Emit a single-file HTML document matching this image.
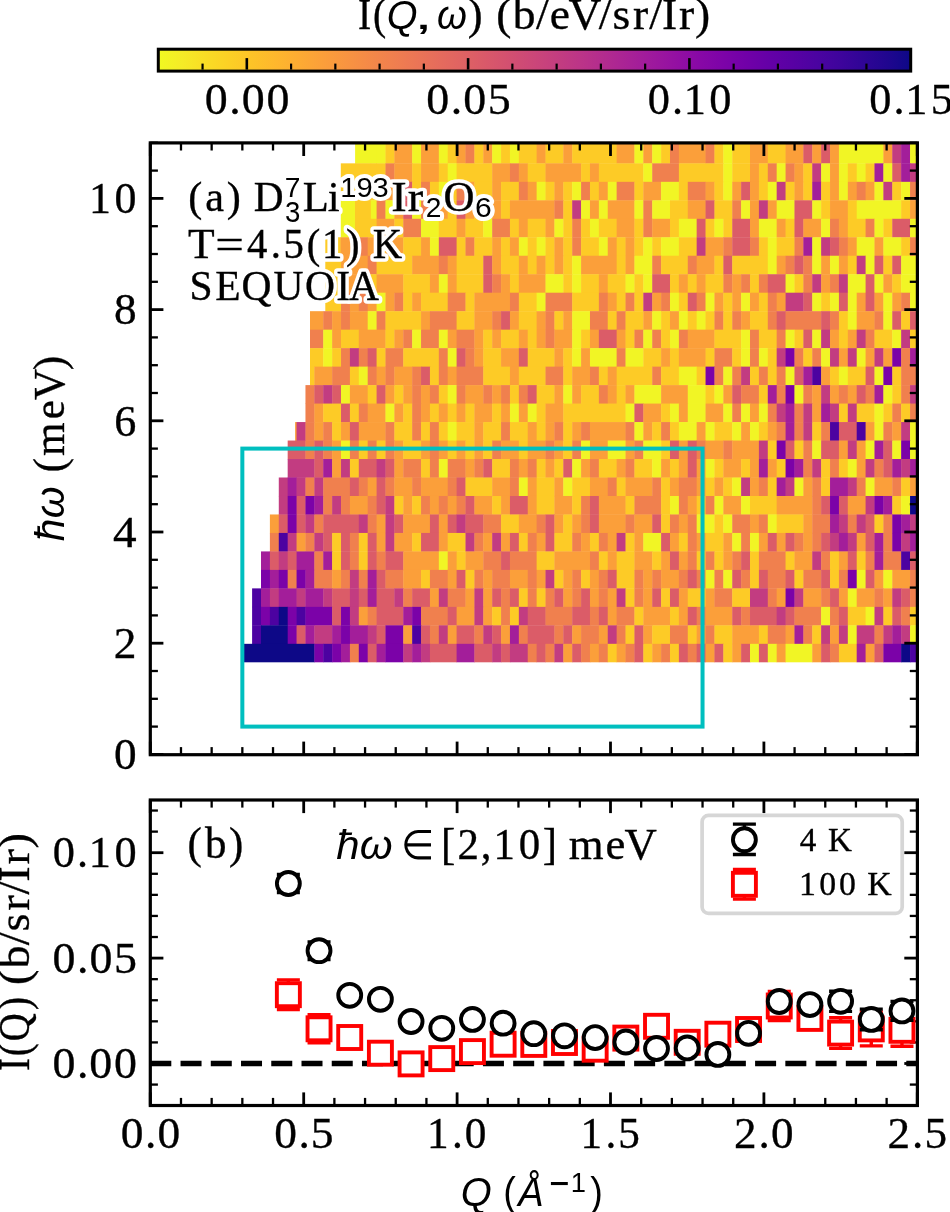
<!DOCTYPE html><html><head><meta charset="utf-8"><style>html,body{margin:0;padding:0;background:#fff;}svg{display:block;will-change:transform;}</style></head><body><svg width="950" height="1212" viewBox="0 0 950 1212"><rect width="950" height="1212" fill="#ffffff"/><defs><linearGradient id="cb" x1="0" x2="1" y1="0" y2="0"><stop offset="0.0000" stop-color="#f0f921"/><stop offset="0.0312" stop-color="#f5eb27"/><stop offset="0.0625" stop-color="#f9dd25"/><stop offset="0.0938" stop-color="#fcd025"/><stop offset="0.1250" stop-color="#fdc328"/><stop offset="0.1562" stop-color="#feb72d"/><stop offset="0.1875" stop-color="#fdab33"/><stop offset="0.2188" stop-color="#fb9f3a"/><stop offset="0.2500" stop-color="#f89441"/><stop offset="0.2812" stop-color="#f48948"/><stop offset="0.3125" stop-color="#f07f4f"/><stop offset="0.3438" stop-color="#eb7556"/><stop offset="0.3750" stop-color="#e56b5d"/><stop offset="0.4062" stop-color="#df6263"/><stop offset="0.4375" stop-color="#d9586a"/><stop offset="0.4688" stop-color="#d24f71"/><stop offset="0.5000" stop-color="#cb4679"/><stop offset="0.5312" stop-color="#c33d80"/><stop offset="0.5625" stop-color="#bb3488"/><stop offset="0.5938" stop-color="#b22b8f"/><stop offset="0.6250" stop-color="#a82296"/><stop offset="0.6562" stop-color="#9e199d"/><stop offset="0.6875" stop-color="#9410a2"/><stop offset="0.7188" stop-color="#8808a6"/><stop offset="0.7500" stop-color="#7d03a8"/><stop offset="0.7812" stop-color="#7100a8"/><stop offset="0.8125" stop-color="#6400a7"/><stop offset="0.8438" stop-color="#5801a4"/><stop offset="0.8750" stop-color="#4b03a1"/><stop offset="0.9062" stop-color="#3e049c"/><stop offset="0.9375" stop-color="#2f0596"/><stop offset="0.9688" stop-color="#20068f"/><stop offset="1.0000" stop-color="#0d0887"/></linearGradient></defs><rect x="158.30" y="49.20" width="752.40" height="21.90" fill="url(#cb)" stroke="#000" stroke-width="3"/><line x1="202.56" y1="69.60" x2="202.56" y2="63.60" stroke="#000" stroke-width="2.2"/><line x1="246.82" y1="69.60" x2="246.82" y2="58.10" stroke="#000" stroke-width="2.6"/><line x1="291.08" y1="69.60" x2="291.08" y2="63.60" stroke="#000" stroke-width="2.2"/><line x1="335.34" y1="69.60" x2="335.34" y2="63.60" stroke="#000" stroke-width="2.2"/><line x1="379.59" y1="69.60" x2="379.59" y2="63.60" stroke="#000" stroke-width="2.2"/><line x1="423.85" y1="69.60" x2="423.85" y2="63.60" stroke="#000" stroke-width="2.2"/><line x1="468.11" y1="69.60" x2="468.11" y2="58.10" stroke="#000" stroke-width="2.6"/><line x1="512.37" y1="69.60" x2="512.37" y2="63.60" stroke="#000" stroke-width="2.2"/><line x1="556.63" y1="69.60" x2="556.63" y2="63.60" stroke="#000" stroke-width="2.2"/><line x1="600.89" y1="69.60" x2="600.89" y2="63.60" stroke="#000" stroke-width="2.2"/><line x1="645.15" y1="69.60" x2="645.15" y2="63.60" stroke="#000" stroke-width="2.2"/><line x1="689.41" y1="69.60" x2="689.41" y2="58.10" stroke="#000" stroke-width="2.6"/><line x1="733.66" y1="69.60" x2="733.66" y2="63.60" stroke="#000" stroke-width="2.2"/><line x1="777.92" y1="69.60" x2="777.92" y2="63.60" stroke="#000" stroke-width="2.2"/><line x1="822.18" y1="69.60" x2="822.18" y2="63.60" stroke="#000" stroke-width="2.2"/><line x1="866.44" y1="69.60" x2="866.44" y2="63.60" stroke="#000" stroke-width="2.2"/><text transform="translate(0.00 113.60) scale(1.0557 1.0000)" x="194.05 217.21 229.03 252.35" font-size="43.5" style="font-family:'Liberation Serif',serif" stroke="#000" stroke-width="0.33">0.00</text><text transform="translate(0.00 113.60) scale(1.0555 1.0000)" x="403.78 426.99 438.87 462.13" font-size="43.5" style="font-family:'Liberation Serif',serif" stroke="#000" stroke-width="0.33">0.05</text><text transform="translate(0.00 113.60) scale(1.0193 1.0000)" x="635.57 659.35 670.92 695.95" font-size="43.5" style="font-family:'Liberation Serif',serif" stroke="#000" stroke-width="0.34">0.10</text><text transform="translate(0.00 113.60) scale(1.0183 1.0000)" x="853.53 877.39 889.04 914.03" font-size="43.5" style="font-family:'Liberation Serif',serif" stroke="#000" stroke-width="0.34">0.15</text><text transform="translate(0.00 28.85) scale(0.9098 1.0000)" x="393.45 410.09" font-size="43.5" style="font-family:'Liberation Serif',serif" stroke="#000" stroke-width="0.38">I(</text><text transform="translate(386.78 28.85) scale(0.9600 1.0000)" font-size="41.2" style="font-family:'Liberation Sans',sans-serif;font-style:italic" stroke="#000" stroke-width="0.00">Q</text><text transform="translate(413.91 28.85) scale(1.6500 1.0000)" font-size="41.2" style="font-family:'Liberation Sans',sans-serif" stroke="#000" stroke-width="0.00">,</text><text transform="translate(436.93 28.85) scale(0.9322 1.0000)" font-size="41.2" style="font-family:'Liberation Sans',sans-serif;font-style:italic" stroke="#000" stroke-width="0.00">ω</text><text transform="translate(0.00 28.85) scale(1.0273 1.0000)" x="455.44" font-size="43.5" style="font-family:'Liberation Serif',serif" stroke="#000" stroke-width="0.34">)</text><text transform="translate(0.00 28.85) scale(1.0465 1.0000)" x="474.32 489.97 512.19 525.36 543.20 572.16 585.28 604.93 620.39 632.55 648.88 664.16" font-size="43.5" style="font-family:'Liberation Serif',serif" stroke="#000" stroke-width="0.33">(b/eV/sr/Ir)</text><g><rect x="355.10" y="143.50" width="21.90" height="20.24" fill="#f1f525"/><rect x="376.59" y="143.50" width="9.29" height="20.24" fill="#f1f525"/><rect x="385.48" y="143.50" width="9.29" height="20.24" fill="#fdcb26"/><rect x="394.37" y="143.50" width="18.18" height="20.24" fill="#fb9f3a"/><rect x="412.15" y="143.50" width="9.29" height="20.24" fill="#f1f525"/><rect x="421.04" y="143.50" width="18.18" height="20.24" fill="#fb9f3a"/><rect x="438.82" y="143.50" width="9.29" height="20.24" fill="#f1f525"/><rect x="447.71" y="143.50" width="9.29" height="20.24" fill="#fdcb26"/><rect x="456.60" y="143.50" width="9.29" height="20.24" fill="#fb9f3a"/><rect x="465.50" y="143.50" width="9.29" height="20.24" fill="#f0804e"/><rect x="474.39" y="143.50" width="9.29" height="20.24" fill="#fdcb26"/><rect x="483.28" y="143.50" width="9.29" height="20.24" fill="#fb9f3a"/><rect x="492.17" y="143.50" width="9.29" height="20.24" fill="#f1f525"/><rect x="501.06" y="143.50" width="9.29" height="20.24" fill="#fdcb26"/><rect x="509.95" y="143.50" width="9.29" height="20.24" fill="#f1f525"/><rect x="518.84" y="143.50" width="18.18" height="20.24" fill="#fdcb26"/><rect x="536.62" y="143.50" width="9.29" height="20.24" fill="#fb9f3a"/><rect x="545.51" y="143.50" width="18.18" height="20.24" fill="#fdcb26"/><rect x="563.30" y="143.50" width="9.29" height="20.24" fill="#fb9f3a"/><rect x="572.19" y="143.50" width="44.86" height="20.24" fill="#fdcb26"/><rect x="616.64" y="143.50" width="18.18" height="20.24" fill="#fb9f3a"/><rect x="634.42" y="143.50" width="9.29" height="20.24" fill="#f1f525"/><rect x="643.32" y="143.50" width="9.29" height="20.24" fill="#fb9f3a"/><rect x="652.21" y="143.50" width="9.29" height="20.24" fill="#f1f525"/><rect x="661.10" y="143.50" width="9.29" height="20.24" fill="#fdcb26"/><rect x="669.99" y="143.50" width="9.29" height="20.24" fill="#f0804e"/><rect x="678.88" y="143.50" width="27.07" height="20.24" fill="#fb9f3a"/><rect x="705.55" y="143.50" width="9.29" height="20.24" fill="#f0804e"/><rect x="714.44" y="143.50" width="9.29" height="20.24" fill="#fdcb26"/><rect x="723.33" y="143.50" width="9.29" height="20.24" fill="#f1f525"/><rect x="732.23" y="143.50" width="18.18" height="20.24" fill="#fdcb26"/><rect x="750.01" y="143.50" width="18.18" height="20.24" fill="#fb9f3a"/><rect x="767.79" y="143.50" width="18.18" height="20.24" fill="#fdcb26"/><rect x="785.57" y="143.50" width="18.18" height="20.24" fill="#fb9f3a"/><rect x="803.35" y="143.50" width="9.29" height="20.24" fill="#db5c68"/><rect x="812.24" y="143.50" width="9.29" height="20.24" fill="#fb9f3a"/><rect x="821.13" y="143.50" width="9.29" height="20.24" fill="#db5c68"/><rect x="830.03" y="143.50" width="9.29" height="20.24" fill="#fb9f3a"/><rect x="838.92" y="143.50" width="44.86" height="20.24" fill="#f1f525"/><rect x="883.37" y="143.50" width="9.29" height="20.24" fill="#fb9f3a"/><rect x="892.26" y="143.50" width="9.29" height="20.24" fill="#c23c81"/><rect x="901.15" y="143.50" width="9.29" height="20.24" fill="#a31e9a"/><rect x="910.05" y="143.50" width="5.95" height="20.24" fill="#f1f525"/><rect x="340.80" y="163.34" width="14.60" height="18.88" fill="#fdcb26"/><rect x="355.00" y="163.34" width="16.20" height="18.88" fill="#fdcb26"/><rect x="370.80" y="163.34" width="6.20" height="18.88" fill="#fdcb26"/><rect x="376.59" y="163.34" width="9.29" height="18.88" fill="#fdcb26"/><rect x="385.48" y="163.34" width="9.29" height="18.88" fill="#f0804e"/><rect x="394.37" y="163.34" width="18.18" height="18.88" fill="#fb9f3a"/><rect x="412.15" y="163.34" width="9.29" height="18.88" fill="#fdcb26"/><rect x="421.04" y="163.34" width="18.18" height="18.88" fill="#fb9f3a"/><rect x="438.82" y="163.34" width="9.29" height="18.88" fill="#fdcb26"/><rect x="447.71" y="163.34" width="9.29" height="18.88" fill="#f1f525"/><rect x="456.60" y="163.34" width="35.96" height="18.88" fill="#fdcb26"/><rect x="492.17" y="163.34" width="18.18" height="18.88" fill="#fb9f3a"/><rect x="509.95" y="163.34" width="9.29" height="18.88" fill="#f0804e"/><rect x="518.84" y="163.34" width="9.29" height="18.88" fill="#fb9f3a"/><rect x="527.73" y="163.34" width="18.18" height="18.88" fill="#fdcb26"/><rect x="545.51" y="163.34" width="35.96" height="18.88" fill="#fb9f3a"/><rect x="581.08" y="163.34" width="9.29" height="18.88" fill="#fdcb26"/><rect x="589.97" y="163.34" width="9.29" height="18.88" fill="#fb9f3a"/><rect x="598.86" y="163.34" width="44.86" height="18.88" fill="#fdcb26"/><rect x="643.32" y="163.34" width="9.29" height="18.88" fill="#f1f525"/><rect x="652.21" y="163.34" width="27.07" height="18.88" fill="#f0804e"/><rect x="678.88" y="163.34" width="44.85" height="18.88" fill="#fdcb26"/><rect x="723.33" y="163.34" width="9.29" height="18.88" fill="#f1f525"/><rect x="732.23" y="163.34" width="18.18" height="18.88" fill="#fdcb26"/><rect x="750.01" y="163.34" width="9.29" height="18.88" fill="#fb9f3a"/><rect x="758.90" y="163.34" width="9.29" height="18.88" fill="#fdcb26"/><rect x="767.79" y="163.34" width="9.29" height="18.88" fill="#f0804e"/><rect x="776.68" y="163.34" width="9.29" height="18.88" fill="#f1f525"/><rect x="785.57" y="163.34" width="9.29" height="18.88" fill="#f0804e"/><rect x="794.46" y="163.34" width="9.29" height="18.88" fill="#fb9f3a"/><rect x="803.35" y="163.34" width="9.29" height="18.88" fill="#fdcb26"/><rect x="812.24" y="163.34" width="9.29" height="18.88" fill="#c23c81"/><rect x="821.13" y="163.34" width="9.29" height="18.88" fill="#f1f525"/><rect x="830.03" y="163.34" width="9.29" height="18.88" fill="#fb9f3a"/><rect x="838.92" y="163.34" width="9.29" height="18.88" fill="#f1f525"/><rect x="847.81" y="163.34" width="9.29" height="18.88" fill="#fdcb26"/><rect x="856.70" y="163.34" width="9.29" height="18.88" fill="#f1f525"/><rect x="865.59" y="163.34" width="9.29" height="18.88" fill="#fdcb26"/><rect x="874.48" y="163.34" width="9.29" height="18.88" fill="#a31e9a"/><rect x="883.37" y="163.34" width="9.29" height="18.88" fill="#f1f525"/><rect x="892.26" y="163.34" width="9.29" height="18.88" fill="#db5c68"/><rect x="901.15" y="163.34" width="9.29" height="18.88" fill="#a31e9a"/><rect x="910.05" y="163.34" width="5.95" height="18.88" fill="#c23c81"/><rect x="340.80" y="181.82" width="14.60" height="18.88" fill="#fdcb26"/><rect x="355.00" y="181.82" width="16.20" height="18.88" fill="#fdcb26"/><rect x="370.80" y="181.82" width="6.20" height="18.88" fill="#fdcb26"/><rect x="376.59" y="181.82" width="27.07" height="18.88" fill="#fb9f3a"/><rect x="403.26" y="181.82" width="9.29" height="18.88" fill="#db5c68"/><rect x="412.15" y="181.82" width="9.29" height="18.88" fill="#fdcb26"/><rect x="421.04" y="181.82" width="9.29" height="18.88" fill="#f0804e"/><rect x="429.93" y="181.82" width="9.29" height="18.88" fill="#fdcb26"/><rect x="438.82" y="181.82" width="9.29" height="18.88" fill="#f1f525"/><rect x="447.71" y="181.82" width="9.29" height="18.88" fill="#fdcb26"/><rect x="456.60" y="181.82" width="9.29" height="18.88" fill="#f0804e"/><rect x="465.50" y="181.82" width="9.29" height="18.88" fill="#fb9f3a"/><rect x="474.39" y="181.82" width="18.18" height="18.88" fill="#fdcb26"/><rect x="492.17" y="181.82" width="9.29" height="18.88" fill="#fb9f3a"/><rect x="501.06" y="181.82" width="18.18" height="18.88" fill="#fdcb26"/><rect x="518.84" y="181.82" width="9.29" height="18.88" fill="#f0804e"/><rect x="527.73" y="181.82" width="9.29" height="18.88" fill="#fb9f3a"/><rect x="536.62" y="181.82" width="9.29" height="18.88" fill="#f1f525"/><rect x="545.51" y="181.82" width="9.29" height="18.88" fill="#fdcb26"/><rect x="554.40" y="181.82" width="9.29" height="18.88" fill="#fb9f3a"/><rect x="563.30" y="181.82" width="9.29" height="18.88" fill="#fdcb26"/><rect x="572.19" y="181.82" width="9.29" height="18.88" fill="#f1f525"/><rect x="581.08" y="181.82" width="9.29" height="18.88" fill="#f0804e"/><rect x="589.97" y="181.82" width="9.29" height="18.88" fill="#fdcb26"/><rect x="598.86" y="181.82" width="9.29" height="18.88" fill="#fb9f3a"/><rect x="607.75" y="181.82" width="9.29" height="18.88" fill="#f1f525"/><rect x="616.64" y="181.82" width="18.18" height="18.88" fill="#f0804e"/><rect x="634.42" y="181.82" width="9.29" height="18.88" fill="#fdcb26"/><rect x="643.32" y="181.82" width="18.18" height="18.88" fill="#fb9f3a"/><rect x="661.10" y="181.82" width="18.18" height="18.88" fill="#f1f525"/><rect x="678.88" y="181.82" width="9.29" height="18.88" fill="#fdcb26"/><rect x="687.77" y="181.82" width="18.18" height="18.88" fill="#f0804e"/><rect x="705.55" y="181.82" width="9.29" height="18.88" fill="#fb9f3a"/><rect x="714.44" y="181.82" width="9.29" height="18.88" fill="#fdcb26"/><rect x="723.33" y="181.82" width="9.29" height="18.88" fill="#f1f525"/><rect x="732.23" y="181.82" width="9.29" height="18.88" fill="#fb9f3a"/><rect x="741.12" y="181.82" width="9.29" height="18.88" fill="#db5c68"/><rect x="750.01" y="181.82" width="9.29" height="18.88" fill="#fb9f3a"/><rect x="758.90" y="181.82" width="9.29" height="18.88" fill="#fdcb26"/><rect x="767.79" y="181.82" width="9.29" height="18.88" fill="#f1f525"/><rect x="776.68" y="181.82" width="9.29" height="18.88" fill="#c23c81"/><rect x="785.57" y="181.82" width="9.29" height="18.88" fill="#fdcb26"/><rect x="794.46" y="181.82" width="9.29" height="18.88" fill="#fb9f3a"/><rect x="803.35" y="181.82" width="9.29" height="18.88" fill="#fdcb26"/><rect x="812.24" y="181.82" width="9.29" height="18.88" fill="#a31e9a"/><rect x="821.13" y="181.82" width="9.29" height="18.88" fill="#fdcb26"/><rect x="830.03" y="181.82" width="9.29" height="18.88" fill="#fb9f3a"/><rect x="838.92" y="181.82" width="9.29" height="18.88" fill="#f1f525"/><rect x="847.81" y="181.82" width="9.29" height="18.88" fill="#fb9f3a"/><rect x="856.70" y="181.82" width="9.29" height="18.88" fill="#f0804e"/><rect x="865.59" y="181.82" width="9.29" height="18.88" fill="#fb9f3a"/><rect x="874.48" y="181.82" width="9.29" height="18.88" fill="#f1f525"/><rect x="883.37" y="181.82" width="9.29" height="18.88" fill="#c23c81"/><rect x="892.26" y="181.82" width="9.29" height="18.88" fill="#fdcb26"/><rect x="901.15" y="181.82" width="9.29" height="18.88" fill="#f1f525"/><rect x="910.05" y="181.82" width="5.95" height="18.88" fill="#f0804e"/><rect x="340.80" y="200.30" width="14.60" height="18.88" fill="#f1f525"/><rect x="355.00" y="200.30" width="16.20" height="18.88" fill="#fdcb26"/><rect x="370.80" y="200.30" width="6.20" height="18.88" fill="#f1f525"/><rect x="376.59" y="200.30" width="9.29" height="18.88" fill="#f0804e"/><rect x="385.48" y="200.30" width="9.29" height="18.88" fill="#f1f525"/><rect x="394.37" y="200.30" width="9.29" height="18.88" fill="#fb9f3a"/><rect x="403.26" y="200.30" width="9.29" height="18.88" fill="#db5c68"/><rect x="412.15" y="200.30" width="9.29" height="18.88" fill="#f1f525"/><rect x="421.04" y="200.30" width="9.29" height="18.88" fill="#f0804e"/><rect x="429.93" y="200.30" width="18.18" height="18.88" fill="#fb9f3a"/><rect x="447.71" y="200.30" width="9.29" height="18.88" fill="#fdcb26"/><rect x="456.60" y="200.30" width="9.29" height="18.88" fill="#db5c68"/><rect x="465.50" y="200.30" width="9.29" height="18.88" fill="#fb9f3a"/><rect x="474.39" y="200.30" width="18.18" height="18.88" fill="#fdcb26"/><rect x="492.17" y="200.30" width="9.29" height="18.88" fill="#fb9f3a"/><rect x="501.06" y="200.30" width="9.29" height="18.88" fill="#fdcb26"/><rect x="509.95" y="200.30" width="44.85" height="18.88" fill="#fb9f3a"/><rect x="554.40" y="200.30" width="9.29" height="18.88" fill="#f0804e"/><rect x="563.30" y="200.30" width="9.29" height="18.88" fill="#fdcb26"/><rect x="572.19" y="200.30" width="9.29" height="18.88" fill="#c23c81"/><rect x="581.08" y="200.30" width="9.29" height="18.88" fill="#f1f525"/><rect x="589.97" y="200.30" width="9.29" height="18.88" fill="#fb9f3a"/><rect x="598.86" y="200.30" width="9.29" height="18.88" fill="#f1f525"/><rect x="607.75" y="200.30" width="27.07" height="18.88" fill="#fb9f3a"/><rect x="634.42" y="200.30" width="9.29" height="18.88" fill="#f1f525"/><rect x="643.32" y="200.30" width="9.29" height="18.88" fill="#f0804e"/><rect x="652.21" y="200.30" width="18.18" height="18.88" fill="#f1f525"/><rect x="669.99" y="200.30" width="18.18" height="18.88" fill="#fdcb26"/><rect x="687.77" y="200.30" width="18.18" height="18.88" fill="#fb9f3a"/><rect x="705.55" y="200.30" width="9.29" height="18.88" fill="#db5c68"/><rect x="714.44" y="200.30" width="18.18" height="18.88" fill="#fdcb26"/><rect x="732.23" y="200.30" width="9.29" height="18.88" fill="#f0804e"/><rect x="741.12" y="200.30" width="9.29" height="18.88" fill="#f1f525"/><rect x="750.01" y="200.30" width="9.29" height="18.88" fill="#fb9f3a"/><rect x="758.90" y="200.30" width="9.29" height="18.88" fill="#c23c81"/><rect x="767.79" y="200.30" width="9.29" height="18.88" fill="#fb9f3a"/><rect x="776.68" y="200.30" width="18.18" height="18.88" fill="#f1f525"/><rect x="794.46" y="200.30" width="18.18" height="18.88" fill="#db5c68"/><rect x="812.24" y="200.30" width="9.29" height="18.88" fill="#f1f525"/><rect x="821.13" y="200.30" width="9.29" height="18.88" fill="#fdcb26"/><rect x="830.03" y="200.30" width="18.18" height="18.88" fill="#fb9f3a"/><rect x="847.81" y="200.30" width="9.29" height="18.88" fill="#fdcb26"/><rect x="856.70" y="200.30" width="44.85" height="18.88" fill="#f1f525"/><rect x="901.15" y="200.30" width="9.29" height="18.88" fill="#fdcb26"/><rect x="910.05" y="200.30" width="5.95" height="18.88" fill="#fb9f3a"/><rect x="340.80" y="218.78" width="14.60" height="18.88" fill="#f1f525"/><rect x="355.00" y="218.78" width="16.20" height="18.88" fill="#fdcb26"/><rect x="370.80" y="218.78" width="6.20" height="18.88" fill="#fdcb26"/><rect x="376.59" y="218.78" width="18.18" height="18.88" fill="#fb9f3a"/><rect x="394.37" y="218.78" width="9.29" height="18.88" fill="#fdcb26"/><rect x="403.26" y="218.78" width="18.18" height="18.88" fill="#f0804e"/><rect x="421.04" y="218.78" width="18.18" height="18.88" fill="#f1f525"/><rect x="438.82" y="218.78" width="18.18" height="18.88" fill="#fdcb26"/><rect x="456.60" y="218.78" width="9.29" height="18.88" fill="#fb9f3a"/><rect x="465.50" y="218.78" width="18.18" height="18.88" fill="#fdcb26"/><rect x="483.28" y="218.78" width="9.29" height="18.88" fill="#f1f525"/><rect x="492.17" y="218.78" width="18.18" height="18.88" fill="#f0804e"/><rect x="509.95" y="218.78" width="9.29" height="18.88" fill="#fdcb26"/><rect x="518.84" y="218.78" width="9.29" height="18.88" fill="#fb9f3a"/><rect x="527.73" y="218.78" width="18.18" height="18.88" fill="#fdcb26"/><rect x="545.51" y="218.78" width="9.29" height="18.88" fill="#fb9f3a"/><rect x="554.40" y="218.78" width="9.29" height="18.88" fill="#f1f525"/><rect x="563.30" y="218.78" width="9.29" height="18.88" fill="#fdcb26"/><rect x="572.19" y="218.78" width="9.29" height="18.88" fill="#f0804e"/><rect x="581.08" y="218.78" width="9.29" height="18.88" fill="#fdcb26"/><rect x="589.97" y="218.78" width="9.29" height="18.88" fill="#f1f525"/><rect x="598.86" y="218.78" width="18.18" height="18.88" fill="#fdcb26"/><rect x="616.64" y="218.78" width="18.18" height="18.88" fill="#fb9f3a"/><rect x="634.42" y="218.78" width="9.29" height="18.88" fill="#fdcb26"/><rect x="643.32" y="218.78" width="9.29" height="18.88" fill="#f0804e"/><rect x="652.21" y="218.78" width="18.18" height="18.88" fill="#fb9f3a"/><rect x="669.99" y="218.78" width="9.29" height="18.88" fill="#fdcb26"/><rect x="678.88" y="218.78" width="18.18" height="18.88" fill="#f1f525"/><rect x="696.66" y="218.78" width="9.29" height="18.88" fill="#db5c68"/><rect x="705.55" y="218.78" width="9.29" height="18.88" fill="#fdcb26"/><rect x="714.44" y="218.78" width="9.29" height="18.88" fill="#f1f525"/><rect x="723.33" y="218.78" width="9.29" height="18.88" fill="#fdcb26"/><rect x="732.23" y="218.78" width="18.18" height="18.88" fill="#db5c68"/><rect x="750.01" y="218.78" width="9.29" height="18.88" fill="#fb9f3a"/><rect x="758.90" y="218.78" width="18.18" height="18.88" fill="#f1f525"/><rect x="776.68" y="218.78" width="9.29" height="18.88" fill="#fb9f3a"/><rect x="785.57" y="218.78" width="9.29" height="18.88" fill="#fdcb26"/><rect x="794.46" y="218.78" width="9.29" height="18.88" fill="#db5c68"/><rect x="803.35" y="218.78" width="18.18" height="18.88" fill="#fb9f3a"/><rect x="821.13" y="218.78" width="9.29" height="18.88" fill="#f1f525"/><rect x="830.03" y="218.78" width="9.29" height="18.88" fill="#f0804e"/><rect x="838.92" y="218.78" width="9.29" height="18.88" fill="#fb9f3a"/><rect x="847.81" y="218.78" width="18.18" height="18.88" fill="#fdcb26"/><rect x="865.59" y="218.78" width="9.29" height="18.88" fill="#f0804e"/><rect x="874.48" y="218.78" width="9.29" height="18.88" fill="#f1f525"/><rect x="883.37" y="218.78" width="9.29" height="18.88" fill="#fdcb26"/><rect x="892.26" y="218.78" width="18.18" height="18.88" fill="#db5c68"/><rect x="910.05" y="218.78" width="5.95" height="18.88" fill="#f1f525"/><rect x="325.30" y="237.26" width="15.60" height="18.88" fill="#fdcb26"/><rect x="340.50" y="237.26" width="15.30" height="18.88" fill="#fb9f3a"/><rect x="355.40" y="237.26" width="12.70" height="18.88" fill="#f0804e"/><rect x="367.69" y="237.26" width="9.29" height="18.88" fill="#fb9f3a"/><rect x="376.59" y="237.26" width="9.29" height="18.88" fill="#fdcb26"/><rect x="385.48" y="237.26" width="18.18" height="18.88" fill="#fb9f3a"/><rect x="403.26" y="237.26" width="18.18" height="18.88" fill="#fdcb26"/><rect x="421.04" y="237.26" width="9.29" height="18.88" fill="#fb9f3a"/><rect x="429.93" y="237.26" width="9.29" height="18.88" fill="#f1f525"/><rect x="438.82" y="237.26" width="18.18" height="18.88" fill="#db5c68"/><rect x="456.60" y="237.26" width="9.29" height="18.88" fill="#fdcb26"/><rect x="465.50" y="237.26" width="9.29" height="18.88" fill="#f0804e"/><rect x="474.39" y="237.26" width="18.18" height="18.88" fill="#fdcb26"/><rect x="492.17" y="237.26" width="9.29" height="18.88" fill="#fb9f3a"/><rect x="501.06" y="237.26" width="9.29" height="18.88" fill="#fdcb26"/><rect x="509.95" y="237.26" width="9.29" height="18.88" fill="#fb9f3a"/><rect x="518.84" y="237.26" width="9.29" height="18.88" fill="#f1f525"/><rect x="527.73" y="237.26" width="9.29" height="18.88" fill="#fdcb26"/><rect x="536.62" y="237.26" width="9.29" height="18.88" fill="#f1f525"/><rect x="545.51" y="237.26" width="9.29" height="18.88" fill="#fdcb26"/><rect x="554.40" y="237.26" width="9.29" height="18.88" fill="#fb9f3a"/><rect x="563.30" y="237.26" width="9.29" height="18.88" fill="#fdcb26"/><rect x="572.19" y="237.26" width="9.29" height="18.88" fill="#f0804e"/><rect x="581.08" y="237.26" width="18.18" height="18.88" fill="#fdcb26"/><rect x="598.86" y="237.26" width="9.29" height="18.88" fill="#f1f525"/><rect x="607.75" y="237.26" width="9.29" height="18.88" fill="#fb9f3a"/><rect x="616.64" y="237.26" width="9.29" height="18.88" fill="#fdcb26"/><rect x="625.53" y="237.26" width="9.29" height="18.88" fill="#fb9f3a"/><rect x="634.42" y="237.26" width="9.29" height="18.88" fill="#fdcb26"/><rect x="643.32" y="237.26" width="9.29" height="18.88" fill="#f1f525"/><rect x="652.21" y="237.26" width="9.29" height="18.88" fill="#fdcb26"/><rect x="661.10" y="237.26" width="18.18" height="18.88" fill="#f1f525"/><rect x="678.88" y="237.26" width="18.18" height="18.88" fill="#fdcb26"/><rect x="696.66" y="237.26" width="9.29" height="18.88" fill="#c23c81"/><rect x="705.55" y="237.26" width="18.18" height="18.88" fill="#fb9f3a"/><rect x="723.33" y="237.26" width="9.29" height="18.88" fill="#f0804e"/><rect x="732.23" y="237.26" width="18.18" height="18.88" fill="#db5c68"/><rect x="750.01" y="237.26" width="9.29" height="18.88" fill="#f0804e"/><rect x="758.90" y="237.26" width="9.29" height="18.88" fill="#fdcb26"/><rect x="767.79" y="237.26" width="9.29" height="18.88" fill="#f1f525"/><rect x="776.68" y="237.26" width="18.18" height="18.88" fill="#fdcb26"/><rect x="794.46" y="237.26" width="9.29" height="18.88" fill="#f0804e"/><rect x="803.35" y="237.26" width="9.29" height="18.88" fill="#a31e9a"/><rect x="812.24" y="237.26" width="9.29" height="18.88" fill="#f1f525"/><rect x="821.13" y="237.26" width="9.29" height="18.88" fill="#c23c81"/><rect x="830.03" y="237.26" width="9.29" height="18.88" fill="#db5c68"/><rect x="838.92" y="237.26" width="9.29" height="18.88" fill="#f0804e"/><rect x="847.81" y="237.26" width="9.29" height="18.88" fill="#fb9f3a"/><rect x="856.70" y="237.26" width="18.18" height="18.88" fill="#f1f525"/><rect x="874.48" y="237.26" width="9.29" height="18.88" fill="#fb9f3a"/><rect x="883.37" y="237.26" width="18.18" height="18.88" fill="#f1f525"/><rect x="901.15" y="237.26" width="9.29" height="18.88" fill="#fdcb26"/><rect x="910.05" y="237.26" width="5.95" height="18.88" fill="#f0804e"/><rect x="325.30" y="255.74" width="16.12" height="18.88" fill="#fdcb26"/><rect x="341.02" y="255.74" width="27.07" height="18.88" fill="#fb9f3a"/><rect x="367.69" y="255.74" width="9.29" height="18.88" fill="#f0804e"/><rect x="376.59" y="255.74" width="35.96" height="18.88" fill="#fdcb26"/><rect x="412.15" y="255.74" width="27.07" height="18.88" fill="#fb9f3a"/><rect x="438.82" y="255.74" width="9.29" height="18.88" fill="#f0804e"/><rect x="447.71" y="255.74" width="9.29" height="18.88" fill="#fb9f3a"/><rect x="456.60" y="255.74" width="27.07" height="18.88" fill="#fdcb26"/><rect x="483.28" y="255.74" width="9.29" height="18.88" fill="#db5c68"/><rect x="492.17" y="255.74" width="9.29" height="18.88" fill="#fb9f3a"/><rect x="501.06" y="255.74" width="18.18" height="18.88" fill="#fdcb26"/><rect x="518.84" y="255.74" width="9.29" height="18.88" fill="#fb9f3a"/><rect x="527.73" y="255.74" width="9.29" height="18.88" fill="#fdcb26"/><rect x="536.62" y="255.74" width="9.29" height="18.88" fill="#fb9f3a"/><rect x="545.51" y="255.74" width="9.29" height="18.88" fill="#fdcb26"/><rect x="554.40" y="255.74" width="9.29" height="18.88" fill="#fb9f3a"/><rect x="563.30" y="255.74" width="9.29" height="18.88" fill="#fdcb26"/><rect x="572.19" y="255.74" width="9.29" height="18.88" fill="#f1f525"/><rect x="581.08" y="255.74" width="35.96" height="18.88" fill="#fb9f3a"/><rect x="616.64" y="255.74" width="9.29" height="18.88" fill="#fdcb26"/><rect x="625.53" y="255.74" width="9.29" height="18.88" fill="#fb9f3a"/><rect x="634.42" y="255.74" width="18.18" height="18.88" fill="#f1f525"/><rect x="652.21" y="255.74" width="9.29" height="18.88" fill="#f0804e"/><rect x="661.10" y="255.74" width="27.07" height="18.88" fill="#fdcb26"/><rect x="687.77" y="255.74" width="9.29" height="18.88" fill="#f0804e"/><rect x="696.66" y="255.74" width="18.18" height="18.88" fill="#fb9f3a"/><rect x="714.44" y="255.74" width="9.29" height="18.88" fill="#fdcb26"/><rect x="723.33" y="255.74" width="9.29" height="18.88" fill="#db5c68"/><rect x="732.23" y="255.74" width="35.96" height="18.88" fill="#fdcb26"/><rect x="767.79" y="255.74" width="9.29" height="18.88" fill="#f1f525"/><rect x="776.68" y="255.74" width="9.29" height="18.88" fill="#fb9f3a"/><rect x="785.57" y="255.74" width="9.29" height="18.88" fill="#f0804e"/><rect x="794.46" y="255.74" width="9.29" height="18.88" fill="#db5c68"/><rect x="803.35" y="255.74" width="9.29" height="18.88" fill="#f0804e"/><rect x="812.24" y="255.74" width="9.29" height="18.88" fill="#f1f525"/><rect x="821.13" y="255.74" width="9.29" height="18.88" fill="#fb9f3a"/><rect x="830.03" y="255.74" width="9.29" height="18.88" fill="#f1f525"/><rect x="838.92" y="255.74" width="9.29" height="18.88" fill="#fb9f3a"/><rect x="847.81" y="255.74" width="9.29" height="18.88" fill="#fdcb26"/><rect x="856.70" y="255.74" width="9.29" height="18.88" fill="#c23c81"/><rect x="865.59" y="255.74" width="9.29" height="18.88" fill="#f1f525"/><rect x="874.48" y="255.74" width="9.29" height="18.88" fill="#db5c68"/><rect x="883.37" y="255.74" width="9.29" height="18.88" fill="#fdcb26"/><rect x="892.26" y="255.74" width="9.29" height="18.88" fill="#db5c68"/><rect x="901.15" y="255.74" width="14.85" height="18.88" fill="#f1f525"/><rect x="325.30" y="274.22" width="16.12" height="18.88" fill="#fdcb26"/><rect x="341.02" y="274.22" width="18.18" height="18.88" fill="#fb9f3a"/><rect x="358.80" y="274.22" width="18.18" height="18.88" fill="#fdcb26"/><rect x="376.59" y="274.22" width="27.07" height="18.88" fill="#fb9f3a"/><rect x="403.26" y="274.22" width="27.07" height="18.88" fill="#fdcb26"/><rect x="429.93" y="274.22" width="9.29" height="18.88" fill="#fb9f3a"/><rect x="438.82" y="274.22" width="9.29" height="18.88" fill="#f1f525"/><rect x="447.71" y="274.22" width="9.29" height="18.88" fill="#fb9f3a"/><rect x="456.60" y="274.22" width="27.07" height="18.88" fill="#fdcb26"/><rect x="483.28" y="274.22" width="9.29" height="18.88" fill="#db5c68"/><rect x="492.17" y="274.22" width="9.29" height="18.88" fill="#f0804e"/><rect x="501.06" y="274.22" width="9.29" height="18.88" fill="#fb9f3a"/><rect x="509.95" y="274.22" width="9.29" height="18.88" fill="#fdcb26"/><rect x="518.84" y="274.22" width="27.07" height="18.88" fill="#fb9f3a"/><rect x="545.51" y="274.22" width="18.18" height="18.88" fill="#f1f525"/><rect x="563.30" y="274.22" width="9.29" height="18.88" fill="#fdcb26"/><rect x="572.19" y="274.22" width="9.29" height="18.88" fill="#f1f525"/><rect x="581.08" y="274.22" width="18.18" height="18.88" fill="#fdcb26"/><rect x="598.86" y="274.22" width="9.29" height="18.88" fill="#fb9f3a"/><rect x="607.75" y="274.22" width="18.18" height="18.88" fill="#fdcb26"/><rect x="625.53" y="274.22" width="9.29" height="18.88" fill="#f1f525"/><rect x="634.42" y="274.22" width="9.29" height="18.88" fill="#fdcb26"/><rect x="643.32" y="274.22" width="9.29" height="18.88" fill="#f1f525"/><rect x="652.21" y="274.22" width="18.18" height="18.88" fill="#db5c68"/><rect x="669.99" y="274.22" width="9.29" height="18.88" fill="#fdcb26"/><rect x="678.88" y="274.22" width="9.29" height="18.88" fill="#fb9f3a"/><rect x="687.77" y="274.22" width="9.29" height="18.88" fill="#fdcb26"/><rect x="696.66" y="274.22" width="9.29" height="18.88" fill="#fb9f3a"/><rect x="705.55" y="274.22" width="18.18" height="18.88" fill="#fdcb26"/><rect x="723.33" y="274.22" width="9.29" height="18.88" fill="#f0804e"/><rect x="732.23" y="274.22" width="9.29" height="18.88" fill="#fb9f3a"/><rect x="741.12" y="274.22" width="9.29" height="18.88" fill="#f0804e"/><rect x="750.01" y="274.22" width="9.29" height="18.88" fill="#fdcb26"/><rect x="758.90" y="274.22" width="9.29" height="18.88" fill="#f0804e"/><rect x="767.79" y="274.22" width="18.18" height="18.88" fill="#db5c68"/><rect x="785.57" y="274.22" width="9.29" height="18.88" fill="#f1f525"/><rect x="794.46" y="274.22" width="9.29" height="18.88" fill="#fdcb26"/><rect x="803.35" y="274.22" width="9.29" height="18.88" fill="#f0804e"/><rect x="812.24" y="274.22" width="9.29" height="18.88" fill="#c23c81"/><rect x="821.13" y="274.22" width="9.29" height="18.88" fill="#fb9f3a"/><rect x="830.03" y="274.22" width="9.29" height="18.88" fill="#f0804e"/><rect x="838.92" y="274.22" width="9.29" height="18.88" fill="#c23c81"/><rect x="847.81" y="274.22" width="18.18" height="18.88" fill="#f1f525"/><rect x="865.59" y="274.22" width="9.29" height="18.88" fill="#db5c68"/><rect x="874.48" y="274.22" width="9.29" height="18.88" fill="#f1f525"/><rect x="883.37" y="274.22" width="9.29" height="18.88" fill="#fb9f3a"/><rect x="892.26" y="274.22" width="9.29" height="18.88" fill="#fdcb26"/><rect x="901.15" y="274.22" width="14.85" height="18.88" fill="#f1f525"/><rect x="325.30" y="292.70" width="16.12" height="18.88" fill="#fdcb26"/><rect x="341.02" y="292.70" width="9.29" height="18.88" fill="#f0804e"/><rect x="349.91" y="292.70" width="9.29" height="18.88" fill="#fb9f3a"/><rect x="358.80" y="292.70" width="9.29" height="18.88" fill="#f0804e"/><rect x="367.69" y="292.70" width="9.29" height="18.88" fill="#fb9f3a"/><rect x="376.59" y="292.70" width="9.29" height="18.88" fill="#f1f525"/><rect x="385.48" y="292.70" width="9.29" height="18.88" fill="#fb9f3a"/><rect x="394.37" y="292.70" width="9.29" height="18.88" fill="#f0804e"/><rect x="403.26" y="292.70" width="9.29" height="18.88" fill="#fdcb26"/><rect x="412.15" y="292.70" width="9.29" height="18.88" fill="#fb9f3a"/><rect x="421.04" y="292.70" width="27.07" height="18.88" fill="#fdcb26"/><rect x="447.71" y="292.70" width="18.18" height="18.88" fill="#f0804e"/><rect x="465.50" y="292.70" width="9.29" height="18.88" fill="#fdcb26"/><rect x="474.39" y="292.70" width="35.96" height="18.88" fill="#fb9f3a"/><rect x="509.95" y="292.70" width="9.29" height="18.88" fill="#f0804e"/><rect x="518.84" y="292.70" width="18.18" height="18.88" fill="#fdcb26"/><rect x="536.62" y="292.70" width="9.29" height="18.88" fill="#f1f525"/><rect x="545.51" y="292.70" width="27.07" height="18.88" fill="#f0804e"/><rect x="572.19" y="292.70" width="27.07" height="18.88" fill="#fdcb26"/><rect x="598.86" y="292.70" width="9.29" height="18.88" fill="#f0804e"/><rect x="607.75" y="292.70" width="9.29" height="18.88" fill="#fb9f3a"/><rect x="616.64" y="292.70" width="9.29" height="18.88" fill="#fdcb26"/><rect x="625.53" y="292.70" width="9.29" height="18.88" fill="#f0804e"/><rect x="634.42" y="292.70" width="9.29" height="18.88" fill="#fdcb26"/><rect x="643.32" y="292.70" width="9.29" height="18.88" fill="#c23c81"/><rect x="652.21" y="292.70" width="9.29" height="18.88" fill="#fb9f3a"/><rect x="661.10" y="292.70" width="9.29" height="18.88" fill="#f0804e"/><rect x="669.99" y="292.70" width="9.29" height="18.88" fill="#f1f525"/><rect x="678.88" y="292.70" width="9.29" height="18.88" fill="#fdcb26"/><rect x="687.77" y="292.70" width="9.29" height="18.88" fill="#db5c68"/><rect x="696.66" y="292.70" width="9.29" height="18.88" fill="#f0804e"/><rect x="705.55" y="292.70" width="9.29" height="18.88" fill="#f1f525"/><rect x="714.44" y="292.70" width="9.29" height="18.88" fill="#fb9f3a"/><rect x="723.33" y="292.70" width="9.29" height="18.88" fill="#fdcb26"/><rect x="732.23" y="292.70" width="9.29" height="18.88" fill="#fb9f3a"/><rect x="741.12" y="292.70" width="9.29" height="18.88" fill="#f1f525"/><rect x="750.01" y="292.70" width="9.29" height="18.88" fill="#fb9f3a"/><rect x="758.90" y="292.70" width="9.29" height="18.88" fill="#fdcb26"/><rect x="767.79" y="292.70" width="9.29" height="18.88" fill="#f0804e"/><rect x="776.68" y="292.70" width="9.29" height="18.88" fill="#fb9f3a"/><rect x="785.57" y="292.70" width="18.18" height="18.88" fill="#c23c81"/><rect x="803.35" y="292.70" width="9.29" height="18.88" fill="#db5c68"/><rect x="812.24" y="292.70" width="9.29" height="18.88" fill="#f1f525"/><rect x="821.13" y="292.70" width="9.29" height="18.88" fill="#fdcb26"/><rect x="830.03" y="292.70" width="9.29" height="18.88" fill="#f1f525"/><rect x="838.92" y="292.70" width="9.29" height="18.88" fill="#db5c68"/><rect x="847.81" y="292.70" width="9.29" height="18.88" fill="#f1f525"/><rect x="856.70" y="292.70" width="9.29" height="18.88" fill="#fb9f3a"/><rect x="865.59" y="292.70" width="9.29" height="18.88" fill="#db5c68"/><rect x="874.48" y="292.70" width="9.29" height="18.88" fill="#fb9f3a"/><rect x="883.37" y="292.70" width="9.29" height="18.88" fill="#f1f525"/><rect x="892.26" y="292.70" width="9.29" height="18.88" fill="#fb9f3a"/><rect x="901.15" y="292.70" width="9.29" height="18.88" fill="#f0804e"/><rect x="910.05" y="292.70" width="5.95" height="18.88" fill="#f1f525"/><rect x="310.00" y="311.18" width="13.64" height="18.88" fill="#fb9f3a"/><rect x="323.24" y="311.18" width="9.29" height="18.88" fill="#f0804e"/><rect x="332.13" y="311.18" width="9.29" height="18.88" fill="#fb9f3a"/><rect x="341.02" y="311.18" width="9.29" height="18.88" fill="#f0804e"/><rect x="349.91" y="311.18" width="18.18" height="18.88" fill="#fb9f3a"/><rect x="367.69" y="311.18" width="9.29" height="18.88" fill="#f1f525"/><rect x="376.59" y="311.18" width="9.29" height="18.88" fill="#f0804e"/><rect x="385.48" y="311.18" width="35.96" height="18.88" fill="#fdcb26"/><rect x="421.04" y="311.18" width="9.29" height="18.88" fill="#fb9f3a"/><rect x="429.93" y="311.18" width="27.07" height="18.88" fill="#f0804e"/><rect x="456.60" y="311.18" width="18.18" height="18.88" fill="#fdcb26"/><rect x="474.39" y="311.18" width="18.18" height="18.88" fill="#fb9f3a"/><rect x="492.17" y="311.18" width="9.29" height="18.88" fill="#f0804e"/><rect x="501.06" y="311.18" width="9.29" height="18.88" fill="#db5c68"/><rect x="509.95" y="311.18" width="9.29" height="18.88" fill="#fb9f3a"/><rect x="518.84" y="311.18" width="18.18" height="18.88" fill="#fdcb26"/><rect x="536.62" y="311.18" width="9.29" height="18.88" fill="#fb9f3a"/><rect x="545.51" y="311.18" width="9.29" height="18.88" fill="#f0804e"/><rect x="554.40" y="311.18" width="9.29" height="18.88" fill="#fdcb26"/><rect x="563.30" y="311.18" width="9.29" height="18.88" fill="#fb9f3a"/><rect x="572.19" y="311.18" width="18.18" height="18.88" fill="#f1f525"/><rect x="589.97" y="311.18" width="18.18" height="18.88" fill="#f0804e"/><rect x="607.75" y="311.18" width="9.29" height="18.88" fill="#fdcb26"/><rect x="616.64" y="311.18" width="9.29" height="18.88" fill="#f0804e"/><rect x="625.53" y="311.18" width="18.18" height="18.88" fill="#fdcb26"/><rect x="643.32" y="311.18" width="9.29" height="18.88" fill="#fb9f3a"/><rect x="652.21" y="311.18" width="9.29" height="18.88" fill="#f1f525"/><rect x="661.10" y="311.18" width="9.29" height="18.88" fill="#fdcb26"/><rect x="669.99" y="311.18" width="9.29" height="18.88" fill="#fb9f3a"/><rect x="678.88" y="311.18" width="9.29" height="18.88" fill="#f1f525"/><rect x="687.77" y="311.18" width="9.29" height="18.88" fill="#fdcb26"/><rect x="696.66" y="311.18" width="9.29" height="18.88" fill="#f1f525"/><rect x="705.55" y="311.18" width="9.29" height="18.88" fill="#fdcb26"/><rect x="714.44" y="311.18" width="9.29" height="18.88" fill="#f0804e"/><rect x="723.33" y="311.18" width="9.29" height="18.88" fill="#fdcb26"/><rect x="732.23" y="311.18" width="9.29" height="18.88" fill="#f0804e"/><rect x="741.12" y="311.18" width="9.29" height="18.88" fill="#fb9f3a"/><rect x="750.01" y="311.18" width="18.18" height="18.88" fill="#fdcb26"/><rect x="767.79" y="311.18" width="9.29" height="18.88" fill="#f0804e"/><rect x="776.68" y="311.18" width="9.29" height="18.88" fill="#db5c68"/><rect x="785.57" y="311.18" width="35.96" height="18.88" fill="#f0804e"/><rect x="821.13" y="311.18" width="9.29" height="18.88" fill="#db5c68"/><rect x="830.03" y="311.18" width="9.29" height="18.88" fill="#f0804e"/><rect x="838.92" y="311.18" width="9.29" height="18.88" fill="#fdcb26"/><rect x="847.81" y="311.18" width="9.29" height="18.88" fill="#f1f525"/><rect x="856.70" y="311.18" width="18.18" height="18.88" fill="#fb9f3a"/><rect x="874.48" y="311.18" width="9.29" height="18.88" fill="#f0804e"/><rect x="883.37" y="311.18" width="9.29" height="18.88" fill="#f1f525"/><rect x="892.26" y="311.18" width="9.29" height="18.88" fill="#db5c68"/><rect x="901.15" y="311.18" width="9.29" height="18.88" fill="#fdcb26"/><rect x="910.05" y="311.18" width="5.95" height="18.88" fill="#db5c68"/><rect x="310.00" y="329.66" width="13.64" height="18.88" fill="#f0804e"/><rect x="323.24" y="329.66" width="9.29" height="18.88" fill="#f1f525"/><rect x="332.13" y="329.66" width="9.29" height="18.88" fill="#fb9f3a"/><rect x="341.02" y="329.66" width="18.18" height="18.88" fill="#fdcb26"/><rect x="358.80" y="329.66" width="27.07" height="18.88" fill="#fb9f3a"/><rect x="385.48" y="329.66" width="9.29" height="18.88" fill="#fdcb26"/><rect x="394.37" y="329.66" width="9.29" height="18.88" fill="#fb9f3a"/><rect x="403.26" y="329.66" width="9.29" height="18.88" fill="#f0804e"/><rect x="412.15" y="329.66" width="9.29" height="18.88" fill="#f1f525"/><rect x="421.04" y="329.66" width="18.18" height="18.88" fill="#f0804e"/><rect x="438.82" y="329.66" width="9.29" height="18.88" fill="#f1f525"/><rect x="447.71" y="329.66" width="9.29" height="18.88" fill="#fb9f3a"/><rect x="456.60" y="329.66" width="18.18" height="18.88" fill="#f0804e"/><rect x="474.39" y="329.66" width="9.29" height="18.88" fill="#fb9f3a"/><rect x="483.28" y="329.66" width="9.29" height="18.88" fill="#fdcb26"/><rect x="492.17" y="329.66" width="9.29" height="18.88" fill="#fb9f3a"/><rect x="501.06" y="329.66" width="18.18" height="18.88" fill="#fdcb26"/><rect x="518.84" y="329.66" width="9.29" height="18.88" fill="#fb9f3a"/><rect x="527.73" y="329.66" width="9.29" height="18.88" fill="#fdcb26"/><rect x="536.62" y="329.66" width="9.29" height="18.88" fill="#fb9f3a"/><rect x="545.51" y="329.66" width="9.29" height="18.88" fill="#f0804e"/><rect x="554.40" y="329.66" width="18.18" height="18.88" fill="#fb9f3a"/><rect x="572.19" y="329.66" width="9.29" height="18.88" fill="#f1f525"/><rect x="581.08" y="329.66" width="9.29" height="18.88" fill="#fdcb26"/><rect x="589.97" y="329.66" width="9.29" height="18.88" fill="#fb9f3a"/><rect x="598.86" y="329.66" width="18.18" height="18.88" fill="#db5c68"/><rect x="616.64" y="329.66" width="9.29" height="18.88" fill="#fb9f3a"/><rect x="625.53" y="329.66" width="9.29" height="18.88" fill="#fdcb26"/><rect x="634.42" y="329.66" width="9.29" height="18.88" fill="#f0804e"/><rect x="643.32" y="329.66" width="9.29" height="18.88" fill="#f1f525"/><rect x="652.21" y="329.66" width="9.29" height="18.88" fill="#f0804e"/><rect x="661.10" y="329.66" width="9.29" height="18.88" fill="#fdcb26"/><rect x="669.99" y="329.66" width="9.29" height="18.88" fill="#f1f525"/><rect x="678.88" y="329.66" width="9.29" height="18.88" fill="#f0804e"/><rect x="687.77" y="329.66" width="27.07" height="18.88" fill="#fb9f3a"/><rect x="714.44" y="329.66" width="27.07" height="18.88" fill="#fdcb26"/><rect x="741.12" y="329.66" width="9.29" height="18.88" fill="#f1f525"/><rect x="750.01" y="329.66" width="9.29" height="18.88" fill="#f0804e"/><rect x="758.90" y="329.66" width="18.18" height="18.88" fill="#fdcb26"/><rect x="776.68" y="329.66" width="9.29" height="18.88" fill="#f0804e"/><rect x="785.57" y="329.66" width="9.29" height="18.88" fill="#f1f525"/><rect x="794.46" y="329.66" width="9.29" height="18.88" fill="#fdcb26"/><rect x="803.35" y="329.66" width="9.29" height="18.88" fill="#db5c68"/><rect x="812.24" y="329.66" width="9.29" height="18.88" fill="#f1f525"/><rect x="821.13" y="329.66" width="9.29" height="18.88" fill="#c23c81"/><rect x="830.03" y="329.66" width="9.29" height="18.88" fill="#fb9f3a"/><rect x="838.92" y="329.66" width="9.29" height="18.88" fill="#fdcb26"/><rect x="847.81" y="329.66" width="9.29" height="18.88" fill="#fb9f3a"/><rect x="856.70" y="329.66" width="9.29" height="18.88" fill="#c23c81"/><rect x="865.59" y="329.66" width="9.29" height="18.88" fill="#f0804e"/><rect x="874.48" y="329.66" width="18.18" height="18.88" fill="#fdcb26"/><rect x="892.26" y="329.66" width="9.29" height="18.88" fill="#f1f525"/><rect x="901.15" y="329.66" width="9.29" height="18.88" fill="#c23c81"/><rect x="910.05" y="329.66" width="5.95" height="18.88" fill="#fdcb26"/><rect x="310.00" y="348.14" width="13.64" height="18.88" fill="#fdcb26"/><rect x="323.24" y="348.14" width="9.29" height="18.88" fill="#f1f525"/><rect x="332.13" y="348.14" width="9.29" height="18.88" fill="#fdcb26"/><rect x="341.02" y="348.14" width="9.29" height="18.88" fill="#f0804e"/><rect x="349.91" y="348.14" width="9.29" height="18.88" fill="#c23c81"/><rect x="358.80" y="348.14" width="9.29" height="18.88" fill="#f0804e"/><rect x="367.69" y="348.14" width="9.29" height="18.88" fill="#db5c68"/><rect x="376.59" y="348.14" width="9.29" height="18.88" fill="#fdcb26"/><rect x="385.48" y="348.14" width="18.18" height="18.88" fill="#f0804e"/><rect x="403.26" y="348.14" width="35.96" height="18.88" fill="#fdcb26"/><rect x="438.82" y="348.14" width="9.29" height="18.88" fill="#f0804e"/><rect x="447.71" y="348.14" width="9.29" height="18.88" fill="#f1f525"/><rect x="456.60" y="348.14" width="9.29" height="18.88" fill="#db5c68"/><rect x="465.50" y="348.14" width="9.29" height="18.88" fill="#f0804e"/><rect x="474.39" y="348.14" width="9.29" height="18.88" fill="#fb9f3a"/><rect x="483.28" y="348.14" width="18.18" height="18.88" fill="#fdcb26"/><rect x="501.06" y="348.14" width="18.18" height="18.88" fill="#fb9f3a"/><rect x="518.84" y="348.14" width="9.29" height="18.88" fill="#db5c68"/><rect x="527.73" y="348.14" width="27.07" height="18.88" fill="#fdcb26"/><rect x="554.40" y="348.14" width="9.29" height="18.88" fill="#fb9f3a"/><rect x="563.30" y="348.14" width="9.29" height="18.88" fill="#fdcb26"/><rect x="572.19" y="348.14" width="9.29" height="18.88" fill="#f1f525"/><rect x="581.08" y="348.14" width="9.29" height="18.88" fill="#fb9f3a"/><rect x="589.97" y="348.14" width="27.07" height="18.88" fill="#f1f525"/><rect x="616.64" y="348.14" width="9.29" height="18.88" fill="#f0804e"/><rect x="625.53" y="348.14" width="18.18" height="18.88" fill="#f1f525"/><rect x="643.32" y="348.14" width="18.18" height="18.88" fill="#fdcb26"/><rect x="661.10" y="348.14" width="9.29" height="18.88" fill="#fb9f3a"/><rect x="669.99" y="348.14" width="9.29" height="18.88" fill="#fdcb26"/><rect x="678.88" y="348.14" width="27.07" height="18.88" fill="#fb9f3a"/><rect x="705.55" y="348.14" width="9.29" height="18.88" fill="#fdcb26"/><rect x="714.44" y="348.14" width="18.18" height="18.88" fill="#f0804e"/><rect x="732.23" y="348.14" width="9.29" height="18.88" fill="#fdcb26"/><rect x="741.12" y="348.14" width="9.29" height="18.88" fill="#f1f525"/><rect x="750.01" y="348.14" width="9.29" height="18.88" fill="#f0804e"/><rect x="758.90" y="348.14" width="9.29" height="18.88" fill="#f1f525"/><rect x="767.79" y="348.14" width="9.29" height="18.88" fill="#fdcb26"/><rect x="776.68" y="348.14" width="9.29" height="18.88" fill="#c23c81"/><rect x="785.57" y="348.14" width="9.29" height="18.88" fill="#7b02a8"/><rect x="794.46" y="348.14" width="9.29" height="18.88" fill="#f0804e"/><rect x="803.35" y="348.14" width="9.29" height="18.88" fill="#fdcb26"/><rect x="812.24" y="348.14" width="9.29" height="18.88" fill="#f0804e"/><rect x="821.13" y="348.14" width="9.29" height="18.88" fill="#f1f525"/><rect x="830.03" y="348.14" width="9.29" height="18.88" fill="#c23c81"/><rect x="838.92" y="348.14" width="9.29" height="18.88" fill="#fb9f3a"/><rect x="847.81" y="348.14" width="9.29" height="18.88" fill="#c23c81"/><rect x="856.70" y="348.14" width="9.29" height="18.88" fill="#f1f525"/><rect x="865.59" y="348.14" width="9.29" height="18.88" fill="#fb9f3a"/><rect x="874.48" y="348.14" width="9.29" height="18.88" fill="#c23c81"/><rect x="883.37" y="348.14" width="9.29" height="18.88" fill="#fb9f3a"/><rect x="892.26" y="348.14" width="9.29" height="18.88" fill="#7b02a8"/><rect x="901.15" y="348.14" width="9.29" height="18.88" fill="#f0804e"/><rect x="910.05" y="348.14" width="5.95" height="18.88" fill="#a31e9a"/><rect x="310.00" y="366.62" width="4.75" height="18.88" fill="#fdcb26"/><rect x="314.35" y="366.62" width="18.18" height="18.88" fill="#fb9f3a"/><rect x="332.13" y="366.62" width="18.18" height="18.88" fill="#f0804e"/><rect x="349.91" y="366.62" width="9.29" height="18.88" fill="#fdcb26"/><rect x="358.80" y="366.62" width="9.29" height="18.88" fill="#f1f525"/><rect x="367.69" y="366.62" width="9.29" height="18.88" fill="#f0804e"/><rect x="376.59" y="366.62" width="9.29" height="18.88" fill="#fb9f3a"/><rect x="385.48" y="366.62" width="9.29" height="18.88" fill="#f0804e"/><rect x="394.37" y="366.62" width="18.18" height="18.88" fill="#fb9f3a"/><rect x="412.15" y="366.62" width="9.29" height="18.88" fill="#f0804e"/><rect x="421.04" y="366.62" width="9.29" height="18.88" fill="#db5c68"/><rect x="429.93" y="366.62" width="9.29" height="18.88" fill="#fdcb26"/><rect x="438.82" y="366.62" width="9.29" height="18.88" fill="#f0804e"/><rect x="447.71" y="366.62" width="9.29" height="18.88" fill="#fb9f3a"/><rect x="456.60" y="366.62" width="27.07" height="18.88" fill="#f0804e"/><rect x="483.28" y="366.62" width="27.07" height="18.88" fill="#fdcb26"/><rect x="509.95" y="366.62" width="9.29" height="18.88" fill="#fb9f3a"/><rect x="518.84" y="366.62" width="27.07" height="18.88" fill="#fdcb26"/><rect x="545.51" y="366.62" width="18.18" height="18.88" fill="#f0804e"/><rect x="563.30" y="366.62" width="9.29" height="18.88" fill="#fdcb26"/><rect x="572.19" y="366.62" width="18.18" height="18.88" fill="#fb9f3a"/><rect x="589.97" y="366.62" width="9.29" height="18.88" fill="#f0804e"/><rect x="598.86" y="366.62" width="9.29" height="18.88" fill="#fdcb26"/><rect x="607.75" y="366.62" width="9.29" height="18.88" fill="#fb9f3a"/><rect x="616.64" y="366.62" width="35.96" height="18.88" fill="#fdcb26"/><rect x="652.21" y="366.62" width="9.29" height="18.88" fill="#f0804e"/><rect x="661.10" y="366.62" width="18.18" height="18.88" fill="#fdcb26"/><rect x="678.88" y="366.62" width="18.18" height="18.88" fill="#f1f525"/><rect x="696.66" y="366.62" width="9.29" height="18.88" fill="#fdcb26"/><rect x="705.55" y="366.62" width="9.29" height="18.88" fill="#7b02a8"/><rect x="714.44" y="366.62" width="9.29" height="18.88" fill="#f0804e"/><rect x="723.33" y="366.62" width="9.29" height="18.88" fill="#f1f525"/><rect x="732.23" y="366.62" width="9.29" height="18.88" fill="#f0804e"/><rect x="741.12" y="366.62" width="9.29" height="18.88" fill="#c23c81"/><rect x="750.01" y="366.62" width="9.29" height="18.88" fill="#fdcb26"/><rect x="758.90" y="366.62" width="9.29" height="18.88" fill="#f0804e"/><rect x="767.79" y="366.62" width="9.29" height="18.88" fill="#fdcb26"/><rect x="776.68" y="366.62" width="9.29" height="18.88" fill="#f0804e"/><rect x="785.57" y="366.62" width="9.29" height="18.88" fill="#f1f525"/><rect x="794.46" y="366.62" width="9.29" height="18.88" fill="#db5c68"/><rect x="803.35" y="366.62" width="9.29" height="18.88" fill="#a31e9a"/><rect x="812.24" y="366.62" width="9.29" height="18.88" fill="#4c02a1"/><rect x="821.13" y="366.62" width="9.29" height="18.88" fill="#fb9f3a"/><rect x="830.03" y="366.62" width="9.29" height="18.88" fill="#fdcb26"/><rect x="838.92" y="366.62" width="9.29" height="18.88" fill="#f1f525"/><rect x="847.81" y="366.62" width="18.18" height="18.88" fill="#fdcb26"/><rect x="865.59" y="366.62" width="9.29" height="18.88" fill="#db5c68"/><rect x="874.48" y="366.62" width="9.29" height="18.88" fill="#f1f525"/><rect x="883.37" y="366.62" width="9.29" height="18.88" fill="#7b02a8"/><rect x="892.26" y="366.62" width="9.29" height="18.88" fill="#fdcb26"/><rect x="901.15" y="366.62" width="14.85" height="18.88" fill="#f0804e"/><rect x="305.46" y="385.10" width="9.29" height="18.88" fill="#f0804e"/><rect x="314.35" y="385.10" width="9.29" height="18.88" fill="#db5c68"/><rect x="323.24" y="385.10" width="9.29" height="18.88" fill="#c23c81"/><rect x="332.13" y="385.10" width="9.29" height="18.88" fill="#db5c68"/><rect x="341.02" y="385.10" width="9.29" height="18.88" fill="#f1f525"/><rect x="349.91" y="385.10" width="18.18" height="18.88" fill="#fb9f3a"/><rect x="367.69" y="385.10" width="9.29" height="18.88" fill="#fdcb26"/><rect x="376.59" y="385.10" width="9.29" height="18.88" fill="#db5c68"/><rect x="385.48" y="385.10" width="9.29" height="18.88" fill="#fb9f3a"/><rect x="394.37" y="385.10" width="9.29" height="18.88" fill="#fdcb26"/><rect x="403.26" y="385.10" width="9.29" height="18.88" fill="#fb9f3a"/><rect x="412.15" y="385.10" width="9.29" height="18.88" fill="#f0804e"/><rect x="421.04" y="385.10" width="9.29" height="18.88" fill="#fb9f3a"/><rect x="429.93" y="385.10" width="9.29" height="18.88" fill="#f0804e"/><rect x="438.82" y="385.10" width="9.29" height="18.88" fill="#fdcb26"/><rect x="447.71" y="385.10" width="9.29" height="18.88" fill="#f1f525"/><rect x="456.60" y="385.10" width="9.29" height="18.88" fill="#f0804e"/><rect x="465.50" y="385.10" width="18.18" height="18.88" fill="#fb9f3a"/><rect x="483.28" y="385.10" width="9.29" height="18.88" fill="#f0804e"/><rect x="492.17" y="385.10" width="9.29" height="18.88" fill="#fb9f3a"/><rect x="501.06" y="385.10" width="9.29" height="18.88" fill="#f0804e"/><rect x="509.95" y="385.10" width="9.29" height="18.88" fill="#fdcb26"/><rect x="518.84" y="385.10" width="9.29" height="18.88" fill="#f0804e"/><rect x="527.73" y="385.10" width="9.29" height="18.88" fill="#db5c68"/><rect x="536.62" y="385.10" width="18.18" height="18.88" fill="#fdcb26"/><rect x="554.40" y="385.10" width="9.29" height="18.88" fill="#fb9f3a"/><rect x="563.30" y="385.10" width="9.29" height="18.88" fill="#f1f525"/><rect x="572.19" y="385.10" width="9.29" height="18.88" fill="#fb9f3a"/><rect x="581.08" y="385.10" width="18.18" height="18.88" fill="#fdcb26"/><rect x="598.86" y="385.10" width="9.29" height="18.88" fill="#f0804e"/><rect x="607.75" y="385.10" width="9.29" height="18.88" fill="#fb9f3a"/><rect x="616.64" y="385.10" width="9.29" height="18.88" fill="#fdcb26"/><rect x="625.53" y="385.10" width="9.29" height="18.88" fill="#fb9f3a"/><rect x="634.42" y="385.10" width="27.07" height="18.88" fill="#f1f525"/><rect x="661.10" y="385.10" width="27.07" height="18.88" fill="#fb9f3a"/><rect x="687.77" y="385.10" width="18.18" height="18.88" fill="#f1f525"/><rect x="705.55" y="385.10" width="9.29" height="18.88" fill="#fdcb26"/><rect x="714.44" y="385.10" width="9.29" height="18.88" fill="#f1f525"/><rect x="723.33" y="385.10" width="9.29" height="18.88" fill="#fb9f3a"/><rect x="732.23" y="385.10" width="9.29" height="18.88" fill="#db5c68"/><rect x="741.12" y="385.10" width="18.18" height="18.88" fill="#f0804e"/><rect x="758.90" y="385.10" width="9.29" height="18.88" fill="#fdcb26"/><rect x="767.79" y="385.10" width="9.29" height="18.88" fill="#a31e9a"/><rect x="776.68" y="385.10" width="9.29" height="18.88" fill="#f0804e"/><rect x="785.57" y="385.10" width="9.29" height="18.88" fill="#7b02a8"/><rect x="794.46" y="385.10" width="9.29" height="18.88" fill="#f1f525"/><rect x="803.35" y="385.10" width="9.29" height="18.88" fill="#f0804e"/><rect x="812.24" y="385.10" width="9.29" height="18.88" fill="#fb9f3a"/><rect x="821.13" y="385.10" width="9.29" height="18.88" fill="#c23c81"/><rect x="830.03" y="385.10" width="9.29" height="18.88" fill="#fb9f3a"/><rect x="838.92" y="385.10" width="9.29" height="18.88" fill="#f0804e"/><rect x="847.81" y="385.10" width="9.29" height="18.88" fill="#fb9f3a"/><rect x="856.70" y="385.10" width="9.29" height="18.88" fill="#db5c68"/><rect x="865.59" y="385.10" width="9.29" height="18.88" fill="#f0804e"/><rect x="874.48" y="385.10" width="9.29" height="18.88" fill="#a31e9a"/><rect x="883.37" y="385.10" width="9.29" height="18.88" fill="#f1f525"/><rect x="892.26" y="385.10" width="9.29" height="18.88" fill="#fdcb26"/><rect x="901.15" y="385.10" width="9.29" height="18.88" fill="#f0804e"/><rect x="910.05" y="385.10" width="5.95" height="18.88" fill="#c23c81"/><rect x="305.46" y="403.58" width="9.29" height="18.88" fill="#f0804e"/><rect x="314.35" y="403.58" width="9.29" height="18.88" fill="#fb9f3a"/><rect x="323.24" y="403.58" width="18.18" height="18.88" fill="#fdcb26"/><rect x="341.02" y="403.58" width="9.29" height="18.88" fill="#db5c68"/><rect x="349.91" y="403.58" width="9.29" height="18.88" fill="#fdcb26"/><rect x="358.80" y="403.58" width="9.29" height="18.88" fill="#f0804e"/><rect x="367.69" y="403.58" width="18.18" height="18.88" fill="#fb9f3a"/><rect x="385.48" y="403.58" width="9.29" height="18.88" fill="#f1f525"/><rect x="394.37" y="403.58" width="9.29" height="18.88" fill="#fb9f3a"/><rect x="403.26" y="403.58" width="9.29" height="18.88" fill="#fdcb26"/><rect x="412.15" y="403.58" width="9.29" height="18.88" fill="#f0804e"/><rect x="421.04" y="403.58" width="9.29" height="18.88" fill="#fb9f3a"/><rect x="429.93" y="403.58" width="9.29" height="18.88" fill="#fdcb26"/><rect x="438.82" y="403.58" width="9.29" height="18.88" fill="#fb9f3a"/><rect x="447.71" y="403.58" width="9.29" height="18.88" fill="#fdcb26"/><rect x="456.60" y="403.58" width="9.29" height="18.88" fill="#fb9f3a"/><rect x="465.50" y="403.58" width="9.29" height="18.88" fill="#fdcb26"/><rect x="474.39" y="403.58" width="18.18" height="18.88" fill="#fb9f3a"/><rect x="492.17" y="403.58" width="9.29" height="18.88" fill="#fdcb26"/><rect x="501.06" y="403.58" width="9.29" height="18.88" fill="#fb9f3a"/><rect x="509.95" y="403.58" width="9.29" height="18.88" fill="#f1f525"/><rect x="518.84" y="403.58" width="9.29" height="18.88" fill="#fb9f3a"/><rect x="527.73" y="403.58" width="9.29" height="18.88" fill="#f1f525"/><rect x="536.62" y="403.58" width="9.29" height="18.88" fill="#fdcb26"/><rect x="545.51" y="403.58" width="18.18" height="18.88" fill="#fb9f3a"/><rect x="563.30" y="403.58" width="62.64" height="18.88" fill="#fdcb26"/><rect x="625.53" y="403.58" width="9.29" height="18.88" fill="#f1f525"/><rect x="634.42" y="403.58" width="9.29" height="18.88" fill="#db5c68"/><rect x="643.32" y="403.58" width="18.18" height="18.88" fill="#fb9f3a"/><rect x="661.10" y="403.58" width="9.29" height="18.88" fill="#fdcb26"/><rect x="669.99" y="403.58" width="9.29" height="18.88" fill="#f1f525"/><rect x="678.88" y="403.58" width="9.29" height="18.88" fill="#fb9f3a"/><rect x="687.77" y="403.58" width="18.18" height="18.88" fill="#f1f525"/><rect x="705.55" y="403.58" width="18.18" height="18.88" fill="#fb9f3a"/><rect x="723.33" y="403.58" width="9.29" height="18.88" fill="#f1f525"/><rect x="732.23" y="403.58" width="9.29" height="18.88" fill="#f0804e"/><rect x="741.12" y="403.58" width="9.29" height="18.88" fill="#f1f525"/><rect x="750.01" y="403.58" width="9.29" height="18.88" fill="#fb9f3a"/><rect x="758.90" y="403.58" width="9.29" height="18.88" fill="#f1f525"/><rect x="767.79" y="403.58" width="9.29" height="18.88" fill="#f0804e"/><rect x="776.68" y="403.58" width="9.29" height="18.88" fill="#c23c81"/><rect x="785.57" y="403.58" width="9.29" height="18.88" fill="#a31e9a"/><rect x="794.46" y="403.58" width="9.29" height="18.88" fill="#f0804e"/><rect x="803.35" y="403.58" width="9.29" height="18.88" fill="#c23c81"/><rect x="812.24" y="403.58" width="9.29" height="18.88" fill="#fb9f3a"/><rect x="821.13" y="403.58" width="9.29" height="18.88" fill="#a31e9a"/><rect x="830.03" y="403.58" width="9.29" height="18.88" fill="#c23c81"/><rect x="838.92" y="403.58" width="9.29" height="18.88" fill="#fdcb26"/><rect x="847.81" y="403.58" width="9.29" height="18.88" fill="#c23c81"/><rect x="856.70" y="403.58" width="18.18" height="18.88" fill="#fdcb26"/><rect x="874.48" y="403.58" width="9.29" height="18.88" fill="#f1f525"/><rect x="883.37" y="403.58" width="9.29" height="18.88" fill="#fdcb26"/><rect x="892.26" y="403.58" width="9.29" height="18.88" fill="#f0804e"/><rect x="901.15" y="403.58" width="9.29" height="18.88" fill="#fdcb26"/><rect x="910.05" y="403.58" width="5.95" height="18.88" fill="#f0804e"/><rect x="295.10" y="422.06" width="2.10" height="18.88" fill="#fb9f3a"/><rect x="296.57" y="422.06" width="9.29" height="18.88" fill="#c23c81"/><rect x="305.46" y="422.06" width="9.29" height="18.88" fill="#f0804e"/><rect x="314.35" y="422.06" width="9.29" height="18.88" fill="#fb9f3a"/><rect x="323.24" y="422.06" width="9.29" height="18.88" fill="#f0804e"/><rect x="332.13" y="422.06" width="9.29" height="18.88" fill="#fdcb26"/><rect x="341.02" y="422.06" width="9.29" height="18.88" fill="#fb9f3a"/><rect x="349.91" y="422.06" width="9.29" height="18.88" fill="#db5c68"/><rect x="358.80" y="422.06" width="27.07" height="18.88" fill="#fb9f3a"/><rect x="385.48" y="422.06" width="9.29" height="18.88" fill="#f0804e"/><rect x="394.37" y="422.06" width="18.18" height="18.88" fill="#fdcb26"/><rect x="412.15" y="422.06" width="9.29" height="18.88" fill="#f0804e"/><rect x="421.04" y="422.06" width="9.29" height="18.88" fill="#fdcb26"/><rect x="429.93" y="422.06" width="9.29" height="18.88" fill="#f0804e"/><rect x="438.82" y="422.06" width="9.29" height="18.88" fill="#fdcb26"/><rect x="447.71" y="422.06" width="9.29" height="18.88" fill="#f1f525"/><rect x="456.60" y="422.06" width="18.18" height="18.88" fill="#fdcb26"/><rect x="474.39" y="422.06" width="9.29" height="18.88" fill="#fb9f3a"/><rect x="483.28" y="422.06" width="18.18" height="18.88" fill="#fdcb26"/><rect x="501.06" y="422.06" width="9.29" height="18.88" fill="#f0804e"/><rect x="509.95" y="422.06" width="18.18" height="18.88" fill="#fdcb26"/><rect x="527.73" y="422.06" width="9.29" height="18.88" fill="#fb9f3a"/><rect x="536.62" y="422.06" width="9.29" height="18.88" fill="#fdcb26"/><rect x="545.51" y="422.06" width="9.29" height="18.88" fill="#fb9f3a"/><rect x="554.40" y="422.06" width="9.29" height="18.88" fill="#f0804e"/><rect x="563.30" y="422.06" width="9.29" height="18.88" fill="#fdcb26"/><rect x="572.19" y="422.06" width="9.29" height="18.88" fill="#fb9f3a"/><rect x="581.08" y="422.06" width="9.29" height="18.88" fill="#f0804e"/><rect x="589.97" y="422.06" width="35.96" height="18.88" fill="#fb9f3a"/><rect x="625.53" y="422.06" width="9.29" height="18.88" fill="#f0804e"/><rect x="634.42" y="422.06" width="9.29" height="18.88" fill="#f1f525"/><rect x="643.32" y="422.06" width="9.29" height="18.88" fill="#fb9f3a"/><rect x="652.21" y="422.06" width="9.29" height="18.88" fill="#fdcb26"/><rect x="661.10" y="422.06" width="9.29" height="18.88" fill="#f0804e"/><rect x="669.99" y="422.06" width="9.29" height="18.88" fill="#fdcb26"/><rect x="678.88" y="422.06" width="18.18" height="18.88" fill="#f1f525"/><rect x="696.66" y="422.06" width="9.29" height="18.88" fill="#fb9f3a"/><rect x="705.55" y="422.06" width="9.29" height="18.88" fill="#f1f525"/><rect x="714.44" y="422.06" width="18.18" height="18.88" fill="#fdcb26"/><rect x="732.23" y="422.06" width="9.29" height="18.88" fill="#f1f525"/><rect x="741.12" y="422.06" width="9.29" height="18.88" fill="#fb9f3a"/><rect x="750.01" y="422.06" width="9.29" height="18.88" fill="#f1f525"/><rect x="758.90" y="422.06" width="9.29" height="18.88" fill="#fdcb26"/><rect x="767.79" y="422.06" width="9.29" height="18.88" fill="#fb9f3a"/><rect x="776.68" y="422.06" width="9.29" height="18.88" fill="#f0804e"/><rect x="785.57" y="422.06" width="9.29" height="18.88" fill="#a31e9a"/><rect x="794.46" y="422.06" width="9.29" height="18.88" fill="#f0804e"/><rect x="803.35" y="422.06" width="9.29" height="18.88" fill="#c23c81"/><rect x="812.24" y="422.06" width="9.29" height="18.88" fill="#fdcb26"/><rect x="821.13" y="422.06" width="9.29" height="18.88" fill="#f0804e"/><rect x="830.03" y="422.06" width="9.29" height="18.88" fill="#4c02a1"/><rect x="838.92" y="422.06" width="18.18" height="18.88" fill="#db5c68"/><rect x="856.70" y="422.06" width="9.29" height="18.88" fill="#4c02a1"/><rect x="865.59" y="422.06" width="9.29" height="18.88" fill="#fb9f3a"/><rect x="874.48" y="422.06" width="9.29" height="18.88" fill="#f1f525"/><rect x="883.37" y="422.06" width="9.29" height="18.88" fill="#f0804e"/><rect x="892.26" y="422.06" width="9.29" height="18.88" fill="#fb9f3a"/><rect x="901.15" y="422.06" width="9.29" height="18.88" fill="#c23c81"/><rect x="910.05" y="422.06" width="5.95" height="18.88" fill="#f1f525"/><rect x="287.68" y="440.54" width="18.18" height="18.88" fill="#db5c68"/><rect x="305.46" y="440.54" width="9.29" height="18.88" fill="#f0804e"/><rect x="314.35" y="440.54" width="9.29" height="18.88" fill="#db5c68"/><rect x="323.24" y="440.54" width="9.29" height="18.88" fill="#f0804e"/><rect x="332.13" y="440.54" width="9.29" height="18.88" fill="#fb9f3a"/><rect x="341.02" y="440.54" width="9.29" height="18.88" fill="#f1f525"/><rect x="349.91" y="440.54" width="9.29" height="18.88" fill="#f0804e"/><rect x="358.80" y="440.54" width="9.29" height="18.88" fill="#fdcb26"/><rect x="367.69" y="440.54" width="9.29" height="18.88" fill="#f0804e"/><rect x="376.59" y="440.54" width="9.29" height="18.88" fill="#fdcb26"/><rect x="385.48" y="440.54" width="9.29" height="18.88" fill="#f0804e"/><rect x="394.37" y="440.54" width="9.29" height="18.88" fill="#fb9f3a"/><rect x="403.26" y="440.54" width="18.18" height="18.88" fill="#fdcb26"/><rect x="421.04" y="440.54" width="9.29" height="18.88" fill="#fb9f3a"/><rect x="429.93" y="440.54" width="9.29" height="18.88" fill="#f0804e"/><rect x="438.82" y="440.54" width="9.29" height="18.88" fill="#fb9f3a"/><rect x="447.71" y="440.54" width="9.29" height="18.88" fill="#fdcb26"/><rect x="456.60" y="440.54" width="9.29" height="18.88" fill="#fb9f3a"/><rect x="465.50" y="440.54" width="9.29" height="18.88" fill="#fdcb26"/><rect x="474.39" y="440.54" width="9.29" height="18.88" fill="#fb9f3a"/><rect x="483.28" y="440.54" width="9.29" height="18.88" fill="#fdcb26"/><rect x="492.17" y="440.54" width="9.29" height="18.88" fill="#f0804e"/><rect x="501.06" y="440.54" width="18.18" height="18.88" fill="#fb9f3a"/><rect x="518.84" y="440.54" width="9.29" height="18.88" fill="#fdcb26"/><rect x="527.73" y="440.54" width="18.18" height="18.88" fill="#fb9f3a"/><rect x="545.51" y="440.54" width="9.29" height="18.88" fill="#f0804e"/><rect x="554.40" y="440.54" width="9.29" height="18.88" fill="#fb9f3a"/><rect x="563.30" y="440.54" width="9.29" height="18.88" fill="#fdcb26"/><rect x="572.19" y="440.54" width="9.29" height="18.88" fill="#f0804e"/><rect x="581.08" y="440.54" width="9.29" height="18.88" fill="#f1f525"/><rect x="589.97" y="440.54" width="18.18" height="18.88" fill="#fb9f3a"/><rect x="607.75" y="440.54" width="18.18" height="18.88" fill="#f1f525"/><rect x="625.53" y="440.54" width="9.29" height="18.88" fill="#fb9f3a"/><rect x="634.42" y="440.54" width="9.29" height="18.88" fill="#f0804e"/><rect x="643.32" y="440.54" width="18.18" height="18.88" fill="#f1f525"/><rect x="661.10" y="440.54" width="9.29" height="18.88" fill="#fdcb26"/><rect x="669.99" y="440.54" width="9.29" height="18.88" fill="#db5c68"/><rect x="678.88" y="440.54" width="9.29" height="18.88" fill="#fb9f3a"/><rect x="687.77" y="440.54" width="9.29" height="18.88" fill="#db5c68"/><rect x="696.66" y="440.54" width="9.29" height="18.88" fill="#f0804e"/><rect x="705.55" y="440.54" width="18.18" height="18.88" fill="#fb9f3a"/><rect x="723.33" y="440.54" width="9.29" height="18.88" fill="#f0804e"/><rect x="732.23" y="440.54" width="27.07" height="18.88" fill="#fb9f3a"/><rect x="758.90" y="440.54" width="9.29" height="18.88" fill="#c23c81"/><rect x="767.79" y="440.54" width="9.29" height="18.88" fill="#fdcb26"/><rect x="776.68" y="440.54" width="9.29" height="18.88" fill="#7b02a8"/><rect x="785.57" y="440.54" width="9.29" height="18.88" fill="#db5c68"/><rect x="794.46" y="440.54" width="9.29" height="18.88" fill="#fdcb26"/><rect x="803.35" y="440.54" width="9.29" height="18.88" fill="#f0804e"/><rect x="812.24" y="440.54" width="9.29" height="18.88" fill="#f1f525"/><rect x="821.13" y="440.54" width="18.18" height="18.88" fill="#db5c68"/><rect x="838.92" y="440.54" width="9.29" height="18.88" fill="#fb9f3a"/><rect x="847.81" y="440.54" width="9.29" height="18.88" fill="#c23c81"/><rect x="856.70" y="440.54" width="9.29" height="18.88" fill="#fb9f3a"/><rect x="865.59" y="440.54" width="9.29" height="18.88" fill="#f1f525"/><rect x="874.48" y="440.54" width="9.29" height="18.88" fill="#a31e9a"/><rect x="883.37" y="440.54" width="9.29" height="18.88" fill="#db5c68"/><rect x="892.26" y="440.54" width="9.29" height="18.88" fill="#f1f525"/><rect x="901.15" y="440.54" width="9.29" height="18.88" fill="#7b02a8"/><rect x="910.05" y="440.54" width="5.95" height="18.88" fill="#f1f525"/><rect x="287.68" y="459.02" width="27.07" height="18.88" fill="#c23c81"/><rect x="314.35" y="459.02" width="9.29" height="18.88" fill="#db5c68"/><rect x="323.24" y="459.02" width="9.29" height="18.88" fill="#a31e9a"/><rect x="332.13" y="459.02" width="9.29" height="18.88" fill="#fb9f3a"/><rect x="341.02" y="459.02" width="9.29" height="18.88" fill="#c23c81"/><rect x="349.91" y="459.02" width="9.29" height="18.88" fill="#fdcb26"/><rect x="358.80" y="459.02" width="18.18" height="18.88" fill="#db5c68"/><rect x="376.59" y="459.02" width="9.29" height="18.88" fill="#c23c81"/><rect x="385.48" y="459.02" width="9.29" height="18.88" fill="#db5c68"/><rect x="394.37" y="459.02" width="9.29" height="18.88" fill="#fb9f3a"/><rect x="403.26" y="459.02" width="18.18" height="18.88" fill="#f0804e"/><rect x="421.04" y="459.02" width="9.29" height="18.88" fill="#fdcb26"/><rect x="429.93" y="459.02" width="9.29" height="18.88" fill="#f0804e"/><rect x="438.82" y="459.02" width="9.29" height="18.88" fill="#f1f525"/><rect x="447.71" y="459.02" width="18.18" height="18.88" fill="#f0804e"/><rect x="465.50" y="459.02" width="9.29" height="18.88" fill="#fb9f3a"/><rect x="474.39" y="459.02" width="9.29" height="18.88" fill="#f0804e"/><rect x="483.28" y="459.02" width="9.29" height="18.88" fill="#db5c68"/><rect x="492.17" y="459.02" width="18.18" height="18.88" fill="#fdcb26"/><rect x="509.95" y="459.02" width="9.29" height="18.88" fill="#f0804e"/><rect x="518.84" y="459.02" width="9.29" height="18.88" fill="#fb9f3a"/><rect x="527.73" y="459.02" width="9.29" height="18.88" fill="#f0804e"/><rect x="536.62" y="459.02" width="9.29" height="18.88" fill="#fdcb26"/><rect x="545.51" y="459.02" width="9.29" height="18.88" fill="#fb9f3a"/><rect x="554.40" y="459.02" width="9.29" height="18.88" fill="#fdcb26"/><rect x="563.30" y="459.02" width="9.29" height="18.88" fill="#db5c68"/><rect x="572.19" y="459.02" width="9.29" height="18.88" fill="#f1f525"/><rect x="581.08" y="459.02" width="9.29" height="18.88" fill="#fb9f3a"/><rect x="589.97" y="459.02" width="9.29" height="18.88" fill="#f0804e"/><rect x="598.86" y="459.02" width="18.18" height="18.88" fill="#fdcb26"/><rect x="616.64" y="459.02" width="9.29" height="18.88" fill="#fb9f3a"/><rect x="625.53" y="459.02" width="9.29" height="18.88" fill="#f0804e"/><rect x="634.42" y="459.02" width="18.18" height="18.88" fill="#fdcb26"/><rect x="652.21" y="459.02" width="9.29" height="18.88" fill="#f1f525"/><rect x="661.10" y="459.02" width="9.29" height="18.88" fill="#fb9f3a"/><rect x="669.99" y="459.02" width="9.29" height="18.88" fill="#fdcb26"/><rect x="678.88" y="459.02" width="9.29" height="18.88" fill="#fb9f3a"/><rect x="687.77" y="459.02" width="9.29" height="18.88" fill="#db5c68"/><rect x="696.66" y="459.02" width="9.29" height="18.88" fill="#fb9f3a"/><rect x="705.55" y="459.02" width="9.29" height="18.88" fill="#f1f525"/><rect x="714.44" y="459.02" width="9.29" height="18.88" fill="#fdcb26"/><rect x="723.33" y="459.02" width="18.18" height="18.88" fill="#fb9f3a"/><rect x="741.12" y="459.02" width="9.29" height="18.88" fill="#fdcb26"/><rect x="750.01" y="459.02" width="9.29" height="18.88" fill="#fb9f3a"/><rect x="758.90" y="459.02" width="9.29" height="18.88" fill="#a31e9a"/><rect x="767.79" y="459.02" width="9.29" height="18.88" fill="#fb9f3a"/><rect x="776.68" y="459.02" width="9.29" height="18.88" fill="#fdcb26"/><rect x="785.57" y="459.02" width="9.29" height="18.88" fill="#7b02a8"/><rect x="794.46" y="459.02" width="9.29" height="18.88" fill="#a31e9a"/><rect x="803.35" y="459.02" width="9.29" height="18.88" fill="#f0804e"/><rect x="812.24" y="459.02" width="9.29" height="18.88" fill="#c23c81"/><rect x="821.13" y="459.02" width="9.29" height="18.88" fill="#fdcb26"/><rect x="830.03" y="459.02" width="9.29" height="18.88" fill="#f0804e"/><rect x="838.92" y="459.02" width="9.29" height="18.88" fill="#fdcb26"/><rect x="847.81" y="459.02" width="9.29" height="18.88" fill="#f1f525"/><rect x="856.70" y="459.02" width="9.29" height="18.88" fill="#fb9f3a"/><rect x="865.59" y="459.02" width="9.29" height="18.88" fill="#c23c81"/><rect x="874.48" y="459.02" width="9.29" height="18.88" fill="#f0804e"/><rect x="883.37" y="459.02" width="9.29" height="18.88" fill="#db5c68"/><rect x="892.26" y="459.02" width="9.29" height="18.88" fill="#a31e9a"/><rect x="901.15" y="459.02" width="9.29" height="18.88" fill="#c23c81"/><rect x="910.05" y="459.02" width="5.95" height="18.88" fill="#a31e9a"/><rect x="278.78" y="477.50" width="9.29" height="18.88" fill="#c23c81"/><rect x="287.68" y="477.50" width="9.29" height="18.88" fill="#a31e9a"/><rect x="296.57" y="477.50" width="9.29" height="18.88" fill="#c23c81"/><rect x="305.46" y="477.50" width="9.29" height="18.88" fill="#f0804e"/><rect x="314.35" y="477.50" width="9.29" height="18.88" fill="#c23c81"/><rect x="323.24" y="477.50" width="27.07" height="18.88" fill="#f0804e"/><rect x="349.91" y="477.50" width="9.29" height="18.88" fill="#db5c68"/><rect x="358.80" y="477.50" width="9.29" height="18.88" fill="#f0804e"/><rect x="367.69" y="477.50" width="9.29" height="18.88" fill="#fb9f3a"/><rect x="376.59" y="477.50" width="9.29" height="18.88" fill="#db5c68"/><rect x="385.48" y="477.50" width="9.29" height="18.88" fill="#f0804e"/><rect x="394.37" y="477.50" width="18.18" height="18.88" fill="#fb9f3a"/><rect x="412.15" y="477.50" width="9.29" height="18.88" fill="#f0804e"/><rect x="421.04" y="477.50" width="27.07" height="18.88" fill="#fb9f3a"/><rect x="447.71" y="477.50" width="9.29" height="18.88" fill="#f0804e"/><rect x="456.60" y="477.50" width="9.29" height="18.88" fill="#db5c68"/><rect x="465.50" y="477.50" width="27.07" height="18.88" fill="#fdcb26"/><rect x="492.17" y="477.50" width="18.18" height="18.88" fill="#fb9f3a"/><rect x="509.95" y="477.50" width="9.29" height="18.88" fill="#f0804e"/><rect x="518.84" y="477.50" width="9.29" height="18.88" fill="#f1f525"/><rect x="527.73" y="477.50" width="9.29" height="18.88" fill="#fb9f3a"/><rect x="536.62" y="477.50" width="18.18" height="18.88" fill="#fdcb26"/><rect x="554.40" y="477.50" width="9.29" height="18.88" fill="#fb9f3a"/><rect x="563.30" y="477.50" width="9.29" height="18.88" fill="#f1f525"/><rect x="572.19" y="477.50" width="18.18" height="18.88" fill="#fdcb26"/><rect x="589.97" y="477.50" width="18.18" height="18.88" fill="#fb9f3a"/><rect x="607.75" y="477.50" width="9.29" height="18.88" fill="#f0804e"/><rect x="616.64" y="477.50" width="9.29" height="18.88" fill="#fdcb26"/><rect x="625.53" y="477.50" width="27.07" height="18.88" fill="#fb9f3a"/><rect x="652.21" y="477.50" width="9.29" height="18.88" fill="#f0804e"/><rect x="661.10" y="477.50" width="9.29" height="18.88" fill="#fdcb26"/><rect x="669.99" y="477.50" width="9.29" height="18.88" fill="#fb9f3a"/><rect x="678.88" y="477.50" width="18.18" height="18.88" fill="#f0804e"/><rect x="696.66" y="477.50" width="9.29" height="18.88" fill="#fb9f3a"/><rect x="705.55" y="477.50" width="9.29" height="18.88" fill="#fdcb26"/><rect x="714.44" y="477.50" width="9.29" height="18.88" fill="#fb9f3a"/><rect x="723.33" y="477.50" width="9.29" height="18.88" fill="#fdcb26"/><rect x="732.23" y="477.50" width="9.29" height="18.88" fill="#f1f525"/><rect x="741.12" y="477.50" width="9.29" height="18.88" fill="#c23c81"/><rect x="750.01" y="477.50" width="9.29" height="18.88" fill="#fb9f3a"/><rect x="758.90" y="477.50" width="9.29" height="18.88" fill="#f0804e"/><rect x="767.79" y="477.50" width="9.29" height="18.88" fill="#fdcb26"/><rect x="776.68" y="477.50" width="9.29" height="18.88" fill="#a31e9a"/><rect x="785.57" y="477.50" width="9.29" height="18.88" fill="#c23c81"/><rect x="794.46" y="477.50" width="9.29" height="18.88" fill="#f1f525"/><rect x="803.35" y="477.50" width="9.29" height="18.88" fill="#fb9f3a"/><rect x="812.24" y="477.50" width="9.29" height="18.88" fill="#f0804e"/><rect x="821.13" y="477.50" width="9.29" height="18.88" fill="#fdcb26"/><rect x="830.03" y="477.50" width="18.18" height="18.88" fill="#a31e9a"/><rect x="847.81" y="477.50" width="9.29" height="18.88" fill="#c23c81"/><rect x="856.70" y="477.50" width="9.29" height="18.88" fill="#f0804e"/><rect x="865.59" y="477.50" width="9.29" height="18.88" fill="#f1f525"/><rect x="874.48" y="477.50" width="18.18" height="18.88" fill="#fb9f3a"/><rect x="892.26" y="477.50" width="9.29" height="18.88" fill="#f0804e"/><rect x="901.15" y="477.50" width="9.29" height="18.88" fill="#fdcb26"/><rect x="910.05" y="477.50" width="5.95" height="18.88" fill="#fb9f3a"/><rect x="278.78" y="495.98" width="9.29" height="18.88" fill="#c23c81"/><rect x="287.68" y="495.98" width="9.29" height="18.88" fill="#7b02a8"/><rect x="296.57" y="495.98" width="9.29" height="18.88" fill="#db5c68"/><rect x="305.46" y="495.98" width="9.29" height="18.88" fill="#7b02a8"/><rect x="314.35" y="495.98" width="9.29" height="18.88" fill="#a31e9a"/><rect x="323.24" y="495.98" width="9.29" height="18.88" fill="#f0804e"/><rect x="332.13" y="495.98" width="9.29" height="18.88" fill="#c23c81"/><rect x="341.02" y="495.98" width="9.29" height="18.88" fill="#f0804e"/><rect x="349.91" y="495.98" width="18.18" height="18.88" fill="#fb9f3a"/><rect x="367.69" y="495.98" width="9.29" height="18.88" fill="#f0804e"/><rect x="376.59" y="495.98" width="9.29" height="18.88" fill="#db5c68"/><rect x="385.48" y="495.98" width="9.29" height="18.88" fill="#c23c81"/><rect x="394.37" y="495.98" width="9.29" height="18.88" fill="#fdcb26"/><rect x="403.26" y="495.98" width="9.29" height="18.88" fill="#fb9f3a"/><rect x="412.15" y="495.98" width="9.29" height="18.88" fill="#fdcb26"/><rect x="421.04" y="495.98" width="9.29" height="18.88" fill="#f0804e"/><rect x="429.93" y="495.98" width="9.29" height="18.88" fill="#fb9f3a"/><rect x="438.82" y="495.98" width="9.29" height="18.88" fill="#f0804e"/><rect x="447.71" y="495.98" width="9.29" height="18.88" fill="#fb9f3a"/><rect x="456.60" y="495.98" width="9.29" height="18.88" fill="#f0804e"/><rect x="465.50" y="495.98" width="9.29" height="18.88" fill="#db5c68"/><rect x="474.39" y="495.98" width="18.18" height="18.88" fill="#fb9f3a"/><rect x="492.17" y="495.98" width="9.29" height="18.88" fill="#fdcb26"/><rect x="501.06" y="495.98" width="9.29" height="18.88" fill="#fb9f3a"/><rect x="509.95" y="495.98" width="18.18" height="18.88" fill="#db5c68"/><rect x="527.73" y="495.98" width="9.29" height="18.88" fill="#fb9f3a"/><rect x="536.62" y="495.98" width="18.18" height="18.88" fill="#fdcb26"/><rect x="554.40" y="495.98" width="18.18" height="18.88" fill="#fb9f3a"/><rect x="572.19" y="495.98" width="9.29" height="18.88" fill="#fdcb26"/><rect x="581.08" y="495.98" width="9.29" height="18.88" fill="#f0804e"/><rect x="589.97" y="495.98" width="9.29" height="18.88" fill="#db5c68"/><rect x="598.86" y="495.98" width="27.07" height="18.88" fill="#fb9f3a"/><rect x="625.53" y="495.98" width="9.29" height="18.88" fill="#fdcb26"/><rect x="634.42" y="495.98" width="27.07" height="18.88" fill="#f0804e"/><rect x="661.10" y="495.98" width="9.29" height="18.88" fill="#fdcb26"/><rect x="669.99" y="495.98" width="9.29" height="18.88" fill="#f1f525"/><rect x="678.88" y="495.98" width="9.29" height="18.88" fill="#f0804e"/><rect x="687.77" y="495.98" width="9.29" height="18.88" fill="#fb9f3a"/><rect x="696.66" y="495.98" width="9.29" height="18.88" fill="#fdcb26"/><rect x="705.55" y="495.98" width="9.29" height="18.88" fill="#f0804e"/><rect x="714.44" y="495.98" width="9.29" height="18.88" fill="#f1f525"/><rect x="723.33" y="495.98" width="18.18" height="18.88" fill="#fb9f3a"/><rect x="741.12" y="495.98" width="9.29" height="18.88" fill="#f1f525"/><rect x="750.01" y="495.98" width="27.07" height="18.88" fill="#fdcb26"/><rect x="776.68" y="495.98" width="35.96" height="18.88" fill="#fb9f3a"/><rect x="812.24" y="495.98" width="9.29" height="18.88" fill="#f0804e"/><rect x="821.13" y="495.98" width="9.29" height="18.88" fill="#db5c68"/><rect x="830.03" y="495.98" width="9.29" height="18.88" fill="#7b02a8"/><rect x="838.92" y="495.98" width="9.29" height="18.88" fill="#db5c68"/><rect x="847.81" y="495.98" width="18.18" height="18.88" fill="#fb9f3a"/><rect x="865.59" y="495.98" width="9.29" height="18.88" fill="#c23c81"/><rect x="874.48" y="495.98" width="9.29" height="18.88" fill="#7b02a8"/><rect x="883.37" y="495.98" width="9.29" height="18.88" fill="#a31e9a"/><rect x="892.26" y="495.98" width="9.29" height="18.88" fill="#fdcb26"/><rect x="901.15" y="495.98" width="9.29" height="18.88" fill="#f1f525"/><rect x="910.05" y="495.98" width="5.95" height="18.88" fill="#0d0887"/><rect x="269.89" y="514.46" width="9.29" height="18.88" fill="#fb9f3a"/><rect x="278.78" y="514.46" width="9.29" height="18.88" fill="#db5c68"/><rect x="287.68" y="514.46" width="9.29" height="18.88" fill="#7b02a8"/><rect x="296.57" y="514.46" width="9.29" height="18.88" fill="#db5c68"/><rect x="305.46" y="514.46" width="9.29" height="18.88" fill="#c23c81"/><rect x="314.35" y="514.46" width="9.29" height="18.88" fill="#f0804e"/><rect x="323.24" y="514.46" width="35.96" height="18.88" fill="#db5c68"/><rect x="358.80" y="514.46" width="9.29" height="18.88" fill="#c23c81"/><rect x="367.69" y="514.46" width="9.29" height="18.88" fill="#f0804e"/><rect x="376.59" y="514.46" width="9.29" height="18.88" fill="#fb9f3a"/><rect x="385.48" y="514.46" width="9.29" height="18.88" fill="#c23c81"/><rect x="394.37" y="514.46" width="9.29" height="18.88" fill="#db5c68"/><rect x="403.26" y="514.46" width="27.07" height="18.88" fill="#fb9f3a"/><rect x="429.93" y="514.46" width="9.29" height="18.88" fill="#db5c68"/><rect x="438.82" y="514.46" width="9.29" height="18.88" fill="#fb9f3a"/><rect x="447.71" y="514.46" width="9.29" height="18.88" fill="#db5c68"/><rect x="456.60" y="514.46" width="9.29" height="18.88" fill="#c23c81"/><rect x="465.50" y="514.46" width="18.18" height="18.88" fill="#db5c68"/><rect x="483.28" y="514.46" width="18.18" height="18.88" fill="#f0804e"/><rect x="501.06" y="514.46" width="18.18" height="18.88" fill="#fdcb26"/><rect x="518.84" y="514.46" width="18.18" height="18.88" fill="#fb9f3a"/><rect x="536.62" y="514.46" width="9.29" height="18.88" fill="#f0804e"/><rect x="545.51" y="514.46" width="9.29" height="18.88" fill="#db5c68"/><rect x="554.40" y="514.46" width="9.29" height="18.88" fill="#fb9f3a"/><rect x="563.30" y="514.46" width="9.29" height="18.88" fill="#fdcb26"/><rect x="572.19" y="514.46" width="9.29" height="18.88" fill="#fb9f3a"/><rect x="581.08" y="514.46" width="9.29" height="18.88" fill="#f0804e"/><rect x="589.97" y="514.46" width="9.29" height="18.88" fill="#db5c68"/><rect x="598.86" y="514.46" width="27.07" height="18.88" fill="#fb9f3a"/><rect x="625.53" y="514.46" width="9.29" height="18.88" fill="#f0804e"/><rect x="634.42" y="514.46" width="18.18" height="18.88" fill="#fb9f3a"/><rect x="652.21" y="514.46" width="9.29" height="18.88" fill="#db5c68"/><rect x="661.10" y="514.46" width="9.29" height="18.88" fill="#fdcb26"/><rect x="669.99" y="514.46" width="9.29" height="18.88" fill="#f0804e"/><rect x="678.88" y="514.46" width="9.29" height="18.88" fill="#fb9f3a"/><rect x="687.77" y="514.46" width="9.29" height="18.88" fill="#f0804e"/><rect x="696.66" y="514.46" width="18.18" height="18.88" fill="#f1f525"/><rect x="714.44" y="514.46" width="9.29" height="18.88" fill="#fdcb26"/><rect x="723.33" y="514.46" width="9.29" height="18.88" fill="#f1f525"/><rect x="732.23" y="514.46" width="18.18" height="18.88" fill="#f0804e"/><rect x="750.01" y="514.46" width="9.29" height="18.88" fill="#fb9f3a"/><rect x="758.90" y="514.46" width="9.29" height="18.88" fill="#f0804e"/><rect x="767.79" y="514.46" width="9.29" height="18.88" fill="#f1f525"/><rect x="776.68" y="514.46" width="27.07" height="18.88" fill="#fdcb26"/><rect x="803.35" y="514.46" width="9.29" height="18.88" fill="#fb9f3a"/><rect x="812.24" y="514.46" width="18.18" height="18.88" fill="#f0804e"/><rect x="830.03" y="514.46" width="9.29" height="18.88" fill="#a31e9a"/><rect x="838.92" y="514.46" width="9.29" height="18.88" fill="#c23c81"/><rect x="847.81" y="514.46" width="9.29" height="18.88" fill="#f0804e"/><rect x="856.70" y="514.46" width="9.29" height="18.88" fill="#c23c81"/><rect x="865.59" y="514.46" width="9.29" height="18.88" fill="#db5c68"/><rect x="874.48" y="514.46" width="9.29" height="18.88" fill="#fdcb26"/><rect x="883.37" y="514.46" width="9.29" height="18.88" fill="#f0804e"/><rect x="892.26" y="514.46" width="9.29" height="18.88" fill="#7b02a8"/><rect x="901.15" y="514.46" width="9.29" height="18.88" fill="#a31e9a"/><rect x="910.05" y="514.46" width="5.95" height="18.88" fill="#c23c81"/><rect x="269.89" y="532.94" width="9.29" height="18.88" fill="#f0804e"/><rect x="278.78" y="532.94" width="9.29" height="18.88" fill="#4c02a1"/><rect x="287.68" y="532.94" width="9.29" height="18.88" fill="#c23c81"/><rect x="296.57" y="532.94" width="9.29" height="18.88" fill="#fb9f3a"/><rect x="305.46" y="532.94" width="9.29" height="18.88" fill="#f0804e"/><rect x="314.35" y="532.94" width="9.29" height="18.88" fill="#c23c81"/><rect x="323.24" y="532.94" width="9.29" height="18.88" fill="#db5c68"/><rect x="332.13" y="532.94" width="9.29" height="18.88" fill="#fdcb26"/><rect x="341.02" y="532.94" width="9.29" height="18.88" fill="#db5c68"/><rect x="349.91" y="532.94" width="9.29" height="18.88" fill="#f0804e"/><rect x="358.80" y="532.94" width="9.29" height="18.88" fill="#fdcb26"/><rect x="367.69" y="532.94" width="9.29" height="18.88" fill="#db5c68"/><rect x="376.59" y="532.94" width="9.29" height="18.88" fill="#fb9f3a"/><rect x="385.48" y="532.94" width="9.29" height="18.88" fill="#c23c81"/><rect x="394.37" y="532.94" width="18.18" height="18.88" fill="#fb9f3a"/><rect x="412.15" y="532.94" width="9.29" height="18.88" fill="#fdcb26"/><rect x="421.04" y="532.94" width="18.18" height="18.88" fill="#db5c68"/><rect x="438.82" y="532.94" width="9.29" height="18.88" fill="#fb9f3a"/><rect x="447.71" y="532.94" width="18.18" height="18.88" fill="#fdcb26"/><rect x="465.50" y="532.94" width="9.29" height="18.88" fill="#c23c81"/><rect x="474.39" y="532.94" width="9.29" height="18.88" fill="#f0804e"/><rect x="483.28" y="532.94" width="9.29" height="18.88" fill="#fb9f3a"/><rect x="492.17" y="532.94" width="9.29" height="18.88" fill="#c23c81"/><rect x="501.06" y="532.94" width="9.29" height="18.88" fill="#fb9f3a"/><rect x="509.95" y="532.94" width="9.29" height="18.88" fill="#db5c68"/><rect x="518.84" y="532.94" width="9.29" height="18.88" fill="#fdcb26"/><rect x="527.73" y="532.94" width="9.29" height="18.88" fill="#f0804e"/><rect x="536.62" y="532.94" width="9.29" height="18.88" fill="#fb9f3a"/><rect x="545.51" y="532.94" width="9.29" height="18.88" fill="#db5c68"/><rect x="554.40" y="532.94" width="18.18" height="18.88" fill="#fdcb26"/><rect x="572.19" y="532.94" width="9.29" height="18.88" fill="#f0804e"/><rect x="581.08" y="532.94" width="9.29" height="18.88" fill="#fb9f3a"/><rect x="589.97" y="532.94" width="9.29" height="18.88" fill="#fdcb26"/><rect x="598.86" y="532.94" width="9.29" height="18.88" fill="#f0804e"/><rect x="607.75" y="532.94" width="9.29" height="18.88" fill="#fb9f3a"/><rect x="616.64" y="532.94" width="9.29" height="18.88" fill="#c23c81"/><rect x="625.53" y="532.94" width="9.29" height="18.88" fill="#fdcb26"/><rect x="634.42" y="532.94" width="9.29" height="18.88" fill="#fb9f3a"/><rect x="643.32" y="532.94" width="18.18" height="18.88" fill="#f1f525"/><rect x="661.10" y="532.94" width="9.29" height="18.88" fill="#db5c68"/><rect x="669.99" y="532.94" width="9.29" height="18.88" fill="#fb9f3a"/><rect x="678.88" y="532.94" width="9.29" height="18.88" fill="#fdcb26"/><rect x="687.77" y="532.94" width="9.29" height="18.88" fill="#f0804e"/><rect x="696.66" y="532.94" width="9.29" height="18.88" fill="#fb9f3a"/><rect x="705.55" y="532.94" width="18.18" height="18.88" fill="#fdcb26"/><rect x="723.33" y="532.94" width="9.29" height="18.88" fill="#fb9f3a"/><rect x="732.23" y="532.94" width="9.29" height="18.88" fill="#f1f525"/><rect x="741.12" y="532.94" width="9.29" height="18.88" fill="#f0804e"/><rect x="750.01" y="532.94" width="9.29" height="18.88" fill="#f1f525"/><rect x="758.90" y="532.94" width="9.29" height="18.88" fill="#fb9f3a"/><rect x="767.79" y="532.94" width="9.29" height="18.88" fill="#db5c68"/><rect x="776.68" y="532.94" width="9.29" height="18.88" fill="#fb9f3a"/><rect x="785.57" y="532.94" width="9.29" height="18.88" fill="#db5c68"/><rect x="794.46" y="532.94" width="9.29" height="18.88" fill="#f0804e"/><rect x="803.35" y="532.94" width="9.29" height="18.88" fill="#fb9f3a"/><rect x="812.24" y="532.94" width="9.29" height="18.88" fill="#f0804e"/><rect x="821.13" y="532.94" width="9.29" height="18.88" fill="#db5c68"/><rect x="830.03" y="532.94" width="9.29" height="18.88" fill="#c23c81"/><rect x="838.92" y="532.94" width="9.29" height="18.88" fill="#a31e9a"/><rect x="847.81" y="532.94" width="9.29" height="18.88" fill="#c23c81"/><rect x="856.70" y="532.94" width="9.29" height="18.88" fill="#fb9f3a"/><rect x="865.59" y="532.94" width="9.29" height="18.88" fill="#db5c68"/><rect x="874.48" y="532.94" width="9.29" height="18.88" fill="#a31e9a"/><rect x="883.37" y="532.94" width="9.29" height="18.88" fill="#f0804e"/><rect x="892.26" y="532.94" width="9.29" height="18.88" fill="#7b02a8"/><rect x="901.15" y="532.94" width="9.29" height="18.88" fill="#c23c81"/><rect x="910.05" y="532.94" width="5.95" height="18.88" fill="#a31e9a"/><rect x="261.00" y="551.42" width="9.29" height="18.88" fill="#a31e9a"/><rect x="269.89" y="551.42" width="9.29" height="18.88" fill="#db5c68"/><rect x="278.78" y="551.42" width="9.29" height="18.88" fill="#c23c81"/><rect x="287.68" y="551.42" width="9.29" height="18.88" fill="#db5c68"/><rect x="296.57" y="551.42" width="18.18" height="18.88" fill="#a31e9a"/><rect x="314.35" y="551.42" width="9.29" height="18.88" fill="#f0804e"/><rect x="323.24" y="551.42" width="9.29" height="18.88" fill="#a31e9a"/><rect x="332.13" y="551.42" width="9.29" height="18.88" fill="#fdcb26"/><rect x="341.02" y="551.42" width="9.29" height="18.88" fill="#db5c68"/><rect x="349.91" y="551.42" width="9.29" height="18.88" fill="#f0804e"/><rect x="358.80" y="551.42" width="9.29" height="18.88" fill="#fdcb26"/><rect x="367.69" y="551.42" width="9.29" height="18.88" fill="#db5c68"/><rect x="376.59" y="551.42" width="9.29" height="18.88" fill="#f0804e"/><rect x="385.48" y="551.42" width="18.18" height="18.88" fill="#db5c68"/><rect x="403.26" y="551.42" width="35.96" height="18.88" fill="#fb9f3a"/><rect x="438.82" y="551.42" width="9.29" height="18.88" fill="#f1f525"/><rect x="447.71" y="551.42" width="9.29" height="18.88" fill="#fb9f3a"/><rect x="456.60" y="551.42" width="9.29" height="18.88" fill="#fdcb26"/><rect x="465.50" y="551.42" width="18.18" height="18.88" fill="#fb9f3a"/><rect x="483.28" y="551.42" width="18.18" height="18.88" fill="#f0804e"/><rect x="501.06" y="551.42" width="9.29" height="18.88" fill="#db5c68"/><rect x="509.95" y="551.42" width="27.07" height="18.88" fill="#f0804e"/><rect x="536.62" y="551.42" width="18.18" height="18.88" fill="#fdcb26"/><rect x="554.40" y="551.42" width="35.96" height="18.88" fill="#fb9f3a"/><rect x="589.97" y="551.42" width="9.29" height="18.88" fill="#f0804e"/><rect x="598.86" y="551.42" width="9.29" height="18.88" fill="#fdcb26"/><rect x="607.75" y="551.42" width="9.29" height="18.88" fill="#fb9f3a"/><rect x="616.64" y="551.42" width="18.18" height="18.88" fill="#fdcb26"/><rect x="634.42" y="551.42" width="18.18" height="18.88" fill="#fb9f3a"/><rect x="652.21" y="551.42" width="9.29" height="18.88" fill="#fdcb26"/><rect x="661.10" y="551.42" width="9.29" height="18.88" fill="#fb9f3a"/><rect x="669.99" y="551.42" width="9.29" height="18.88" fill="#db5c68"/><rect x="678.88" y="551.42" width="9.29" height="18.88" fill="#fb9f3a"/><rect x="687.77" y="551.42" width="9.29" height="18.88" fill="#f0804e"/><rect x="696.66" y="551.42" width="9.29" height="18.88" fill="#fdcb26"/><rect x="705.55" y="551.42" width="9.29" height="18.88" fill="#f0804e"/><rect x="714.44" y="551.42" width="9.29" height="18.88" fill="#fdcb26"/><rect x="723.33" y="551.42" width="9.29" height="18.88" fill="#fb9f3a"/><rect x="732.23" y="551.42" width="9.29" height="18.88" fill="#f0804e"/><rect x="741.12" y="551.42" width="9.29" height="18.88" fill="#db5c68"/><rect x="750.01" y="551.42" width="9.29" height="18.88" fill="#fdcb26"/><rect x="758.90" y="551.42" width="27.07" height="18.88" fill="#f0804e"/><rect x="785.57" y="551.42" width="9.29" height="18.88" fill="#fdcb26"/><rect x="794.46" y="551.42" width="18.18" height="18.88" fill="#fb9f3a"/><rect x="812.24" y="551.42" width="9.29" height="18.88" fill="#c23c81"/><rect x="821.13" y="551.42" width="9.29" height="18.88" fill="#f0804e"/><rect x="830.03" y="551.42" width="9.29" height="18.88" fill="#fdcb26"/><rect x="838.92" y="551.42" width="9.29" height="18.88" fill="#fb9f3a"/><rect x="847.81" y="551.42" width="9.29" height="18.88" fill="#db5c68"/><rect x="856.70" y="551.42" width="9.29" height="18.88" fill="#fdcb26"/><rect x="865.59" y="551.42" width="9.29" height="18.88" fill="#f0804e"/><rect x="874.48" y="551.42" width="9.29" height="18.88" fill="#a31e9a"/><rect x="883.37" y="551.42" width="18.18" height="18.88" fill="#f0804e"/><rect x="901.15" y="551.42" width="9.29" height="18.88" fill="#4c02a1"/><rect x="910.05" y="551.42" width="5.95" height="18.88" fill="#db5c68"/><rect x="261.00" y="569.90" width="9.29" height="18.88" fill="#7b02a8"/><rect x="269.89" y="569.90" width="9.29" height="18.88" fill="#a31e9a"/><rect x="278.78" y="569.90" width="9.29" height="18.88" fill="#7b02a8"/><rect x="287.68" y="569.90" width="9.29" height="18.88" fill="#f0804e"/><rect x="296.57" y="569.90" width="9.29" height="18.88" fill="#7b02a8"/><rect x="305.46" y="569.90" width="9.29" height="18.88" fill="#a31e9a"/><rect x="314.35" y="569.90" width="18.18" height="18.88" fill="#f0804e"/><rect x="332.13" y="569.90" width="9.29" height="18.88" fill="#fb9f3a"/><rect x="341.02" y="569.90" width="9.29" height="18.88" fill="#f0804e"/><rect x="349.91" y="569.90" width="9.29" height="18.88" fill="#c23c81"/><rect x="358.80" y="569.90" width="9.29" height="18.88" fill="#f0804e"/><rect x="367.69" y="569.90" width="9.29" height="18.88" fill="#a31e9a"/><rect x="376.59" y="569.90" width="9.29" height="18.88" fill="#db5c68"/><rect x="385.48" y="569.90" width="18.18" height="18.88" fill="#f0804e"/><rect x="403.26" y="569.90" width="18.18" height="18.88" fill="#fb9f3a"/><rect x="421.04" y="569.90" width="9.29" height="18.88" fill="#fdcb26"/><rect x="429.93" y="569.90" width="18.18" height="18.88" fill="#f0804e"/><rect x="447.71" y="569.90" width="9.29" height="18.88" fill="#fb9f3a"/><rect x="456.60" y="569.90" width="9.29" height="18.88" fill="#db5c68"/><rect x="465.50" y="569.90" width="9.29" height="18.88" fill="#fdcb26"/><rect x="474.39" y="569.90" width="9.29" height="18.88" fill="#f0804e"/><rect x="483.28" y="569.90" width="9.29" height="18.88" fill="#fb9f3a"/><rect x="492.17" y="569.90" width="18.18" height="18.88" fill="#f0804e"/><rect x="509.95" y="569.90" width="18.18" height="18.88" fill="#fb9f3a"/><rect x="527.73" y="569.90" width="9.29" height="18.88" fill="#f0804e"/><rect x="536.62" y="569.90" width="9.29" height="18.88" fill="#fb9f3a"/><rect x="545.51" y="569.90" width="9.29" height="18.88" fill="#c23c81"/><rect x="554.40" y="569.90" width="9.29" height="18.88" fill="#fdcb26"/><rect x="563.30" y="569.90" width="9.29" height="18.88" fill="#fb9f3a"/><rect x="572.19" y="569.90" width="9.29" height="18.88" fill="#f0804e"/><rect x="581.08" y="569.90" width="9.29" height="18.88" fill="#fdcb26"/><rect x="589.97" y="569.90" width="9.29" height="18.88" fill="#fb9f3a"/><rect x="598.86" y="569.90" width="9.29" height="18.88" fill="#f0804e"/><rect x="607.75" y="569.90" width="9.29" height="18.88" fill="#db5c68"/><rect x="616.64" y="569.90" width="18.18" height="18.88" fill="#fdcb26"/><rect x="634.42" y="569.90" width="9.29" height="18.88" fill="#f0804e"/><rect x="643.32" y="569.90" width="9.29" height="18.88" fill="#fb9f3a"/><rect x="652.21" y="569.90" width="9.29" height="18.88" fill="#f0804e"/><rect x="661.10" y="569.90" width="18.18" height="18.88" fill="#fb9f3a"/><rect x="678.88" y="569.90" width="9.29" height="18.88" fill="#f0804e"/><rect x="687.77" y="569.90" width="9.29" height="18.88" fill="#db5c68"/><rect x="696.66" y="569.90" width="9.29" height="18.88" fill="#f0804e"/><rect x="705.55" y="569.90" width="9.29" height="18.88" fill="#f1f525"/><rect x="714.44" y="569.90" width="9.29" height="18.88" fill="#f0804e"/><rect x="723.33" y="569.90" width="9.29" height="18.88" fill="#f1f525"/><rect x="732.23" y="569.90" width="9.29" height="18.88" fill="#db5c68"/><rect x="741.12" y="569.90" width="9.29" height="18.88" fill="#f0804e"/><rect x="750.01" y="569.90" width="9.29" height="18.88" fill="#fdcb26"/><rect x="758.90" y="569.90" width="9.29" height="18.88" fill="#db5c68"/><rect x="767.79" y="569.90" width="18.18" height="18.88" fill="#f0804e"/><rect x="785.57" y="569.90" width="9.29" height="18.88" fill="#db5c68"/><rect x="794.46" y="569.90" width="9.29" height="18.88" fill="#fdcb26"/><rect x="803.35" y="569.90" width="18.18" height="18.88" fill="#f0804e"/><rect x="821.13" y="569.90" width="9.29" height="18.88" fill="#db5c68"/><rect x="830.03" y="569.90" width="9.29" height="18.88" fill="#fdcb26"/><rect x="838.92" y="569.90" width="9.29" height="18.88" fill="#f0804e"/><rect x="847.81" y="569.90" width="9.29" height="18.88" fill="#7b02a8"/><rect x="856.70" y="569.90" width="9.29" height="18.88" fill="#f1f525"/><rect x="865.59" y="569.90" width="9.29" height="18.88" fill="#db5c68"/><rect x="874.48" y="569.90" width="9.29" height="18.88" fill="#fb9f3a"/><rect x="883.37" y="569.90" width="9.29" height="18.88" fill="#f1f525"/><rect x="892.26" y="569.90" width="18.18" height="18.88" fill="#fb9f3a"/><rect x="910.05" y="569.90" width="5.95" height="18.88" fill="#f0804e"/><rect x="252.11" y="588.38" width="9.29" height="18.88" fill="#4c02a1"/><rect x="261.00" y="588.38" width="9.29" height="18.88" fill="#a31e9a"/><rect x="269.89" y="588.38" width="9.29" height="18.88" fill="#c23c81"/><rect x="278.78" y="588.38" width="18.18" height="18.88" fill="#a31e9a"/><rect x="296.57" y="588.38" width="9.29" height="18.88" fill="#c23c81"/><rect x="305.46" y="588.38" width="18.18" height="18.88" fill="#a31e9a"/><rect x="323.24" y="588.38" width="9.29" height="18.88" fill="#c23c81"/><rect x="332.13" y="588.38" width="18.18" height="18.88" fill="#db5c68"/><rect x="349.91" y="588.38" width="9.29" height="18.88" fill="#c23c81"/><rect x="358.80" y="588.38" width="9.29" height="18.88" fill="#db5c68"/><rect x="367.69" y="588.38" width="9.29" height="18.88" fill="#a31e9a"/><rect x="376.59" y="588.38" width="18.18" height="18.88" fill="#db5c68"/><rect x="394.37" y="588.38" width="9.29" height="18.88" fill="#c23c81"/><rect x="403.26" y="588.38" width="9.29" height="18.88" fill="#f0804e"/><rect x="412.15" y="588.38" width="18.18" height="18.88" fill="#db5c68"/><rect x="429.93" y="588.38" width="9.29" height="18.88" fill="#fb9f3a"/><rect x="438.82" y="588.38" width="9.29" height="18.88" fill="#c23c81"/><rect x="447.71" y="588.38" width="18.18" height="18.88" fill="#f0804e"/><rect x="465.50" y="588.38" width="9.29" height="18.88" fill="#fb9f3a"/><rect x="474.39" y="588.38" width="9.29" height="18.88" fill="#c23c81"/><rect x="483.28" y="588.38" width="9.29" height="18.88" fill="#fb9f3a"/><rect x="492.17" y="588.38" width="9.29" height="18.88" fill="#db5c68"/><rect x="501.06" y="588.38" width="9.29" height="18.88" fill="#f0804e"/><rect x="509.95" y="588.38" width="9.29" height="18.88" fill="#db5c68"/><rect x="518.84" y="588.38" width="9.29" height="18.88" fill="#fdcb26"/><rect x="527.73" y="588.38" width="9.29" height="18.88" fill="#f0804e"/><rect x="536.62" y="588.38" width="9.29" height="18.88" fill="#fdcb26"/><rect x="545.51" y="588.38" width="9.29" height="18.88" fill="#f0804e"/><rect x="554.40" y="588.38" width="9.29" height="18.88" fill="#db5c68"/><rect x="563.30" y="588.38" width="9.29" height="18.88" fill="#fb9f3a"/><rect x="572.19" y="588.38" width="9.29" height="18.88" fill="#f0804e"/><rect x="581.08" y="588.38" width="9.29" height="18.88" fill="#db5c68"/><rect x="589.97" y="588.38" width="9.29" height="18.88" fill="#fb9f3a"/><rect x="598.86" y="588.38" width="9.29" height="18.88" fill="#f0804e"/><rect x="607.75" y="588.38" width="9.29" height="18.88" fill="#fb9f3a"/><rect x="616.64" y="588.38" width="9.29" height="18.88" fill="#c23c81"/><rect x="625.53" y="588.38" width="9.29" height="18.88" fill="#fdcb26"/><rect x="634.42" y="588.38" width="9.29" height="18.88" fill="#f0804e"/><rect x="643.32" y="588.38" width="9.29" height="18.88" fill="#fb9f3a"/><rect x="652.21" y="588.38" width="9.29" height="18.88" fill="#db5c68"/><rect x="661.10" y="588.38" width="9.29" height="18.88" fill="#fdcb26"/><rect x="669.99" y="588.38" width="9.29" height="18.88" fill="#db5c68"/><rect x="678.88" y="588.38" width="9.29" height="18.88" fill="#fb9f3a"/><rect x="687.77" y="588.38" width="18.18" height="18.88" fill="#fdcb26"/><rect x="705.55" y="588.38" width="9.29" height="18.88" fill="#fb9f3a"/><rect x="714.44" y="588.38" width="18.18" height="18.88" fill="#f0804e"/><rect x="732.23" y="588.38" width="18.18" height="18.88" fill="#fdcb26"/><rect x="750.01" y="588.38" width="18.18" height="18.88" fill="#c23c81"/><rect x="767.79" y="588.38" width="9.29" height="18.88" fill="#f0804e"/><rect x="776.68" y="588.38" width="9.29" height="18.88" fill="#fb9f3a"/><rect x="785.57" y="588.38" width="9.29" height="18.88" fill="#7b02a8"/><rect x="794.46" y="588.38" width="9.29" height="18.88" fill="#c23c81"/><rect x="803.35" y="588.38" width="18.18" height="18.88" fill="#fb9f3a"/><rect x="821.13" y="588.38" width="9.29" height="18.88" fill="#f0804e"/><rect x="830.03" y="588.38" width="9.29" height="18.88" fill="#db5c68"/><rect x="838.92" y="588.38" width="9.29" height="18.88" fill="#fb9f3a"/><rect x="847.81" y="588.38" width="9.29" height="18.88" fill="#f1f525"/><rect x="856.70" y="588.38" width="18.18" height="18.88" fill="#fb9f3a"/><rect x="874.48" y="588.38" width="9.29" height="18.88" fill="#f0804e"/><rect x="883.37" y="588.38" width="9.29" height="18.88" fill="#fb9f3a"/><rect x="892.26" y="588.38" width="9.29" height="18.88" fill="#c23c81"/><rect x="901.15" y="588.38" width="9.29" height="18.88" fill="#db5c68"/><rect x="910.05" y="588.38" width="5.95" height="18.88" fill="#f0804e"/><rect x="252.11" y="606.86" width="9.29" height="18.88" fill="#4c02a1"/><rect x="261.00" y="606.86" width="9.29" height="18.88" fill="#7b02a8"/><rect x="269.89" y="606.86" width="9.29" height="18.88" fill="#4c02a1"/><rect x="278.78" y="606.86" width="9.29" height="18.88" fill="#0d0887"/><rect x="287.68" y="606.86" width="9.29" height="18.88" fill="#7b02a8"/><rect x="296.57" y="606.86" width="9.29" height="18.88" fill="#4c02a1"/><rect x="305.46" y="606.86" width="27.07" height="18.88" fill="#7b02a8"/><rect x="332.13" y="606.86" width="9.29" height="18.88" fill="#db5c68"/><rect x="341.02" y="606.86" width="9.29" height="18.88" fill="#7b02a8"/><rect x="349.91" y="606.86" width="9.29" height="18.88" fill="#c23c81"/><rect x="358.80" y="606.86" width="9.29" height="18.88" fill="#fb9f3a"/><rect x="367.69" y="606.86" width="9.29" height="18.88" fill="#f0804e"/><rect x="376.59" y="606.86" width="27.07" height="18.88" fill="#db5c68"/><rect x="403.26" y="606.86" width="9.29" height="18.88" fill="#a31e9a"/><rect x="412.15" y="606.86" width="9.29" height="18.88" fill="#7b02a8"/><rect x="421.04" y="606.86" width="27.07" height="18.88" fill="#f0804e"/><rect x="447.71" y="606.86" width="9.29" height="18.88" fill="#db5c68"/><rect x="456.60" y="606.86" width="18.18" height="18.88" fill="#fb9f3a"/><rect x="474.39" y="606.86" width="9.29" height="18.88" fill="#c23c81"/><rect x="483.28" y="606.86" width="9.29" height="18.88" fill="#fb9f3a"/><rect x="492.17" y="606.86" width="9.29" height="18.88" fill="#fdcb26"/><rect x="501.06" y="606.86" width="9.29" height="18.88" fill="#f0804e"/><rect x="509.95" y="606.86" width="9.29" height="18.88" fill="#fdcb26"/><rect x="518.84" y="606.86" width="9.29" height="18.88" fill="#c23c81"/><rect x="527.73" y="606.86" width="18.18" height="18.88" fill="#db5c68"/><rect x="545.51" y="606.86" width="27.07" height="18.88" fill="#f0804e"/><rect x="572.19" y="606.86" width="18.18" height="18.88" fill="#db5c68"/><rect x="589.97" y="606.86" width="9.29" height="18.88" fill="#f0804e"/><rect x="598.86" y="606.86" width="9.29" height="18.88" fill="#db5c68"/><rect x="607.75" y="606.86" width="9.29" height="18.88" fill="#fb9f3a"/><rect x="616.64" y="606.86" width="18.18" height="18.88" fill="#f0804e"/><rect x="634.42" y="606.86" width="9.29" height="18.88" fill="#fdcb26"/><rect x="643.32" y="606.86" width="27.07" height="18.88" fill="#fb9f3a"/><rect x="669.99" y="606.86" width="9.29" height="18.88" fill="#fdcb26"/><rect x="678.88" y="606.86" width="9.29" height="18.88" fill="#fb9f3a"/><rect x="687.77" y="606.86" width="9.29" height="18.88" fill="#db5c68"/><rect x="696.66" y="606.86" width="9.29" height="18.88" fill="#f0804e"/><rect x="705.55" y="606.86" width="27.07" height="18.88" fill="#fb9f3a"/><rect x="732.23" y="606.86" width="9.29" height="18.88" fill="#db5c68"/><rect x="741.12" y="606.86" width="9.29" height="18.88" fill="#f0804e"/><rect x="750.01" y="606.86" width="27.07" height="18.88" fill="#db5c68"/><rect x="776.68" y="606.86" width="9.29" height="18.88" fill="#c23c81"/><rect x="785.57" y="606.86" width="9.29" height="18.88" fill="#db5c68"/><rect x="794.46" y="606.86" width="27.07" height="18.88" fill="#f0804e"/><rect x="821.13" y="606.86" width="9.29" height="18.88" fill="#f1f525"/><rect x="830.03" y="606.86" width="9.29" height="18.88" fill="#f0804e"/><rect x="838.92" y="606.86" width="9.29" height="18.88" fill="#db5c68"/><rect x="847.81" y="606.86" width="18.18" height="18.88" fill="#fdcb26"/><rect x="865.59" y="606.86" width="9.29" height="18.88" fill="#f1f525"/><rect x="874.48" y="606.86" width="9.29" height="18.88" fill="#c23c81"/><rect x="883.37" y="606.86" width="9.29" height="18.88" fill="#fdcb26"/><rect x="892.26" y="606.86" width="9.29" height="18.88" fill="#db5c68"/><rect x="901.15" y="606.86" width="9.29" height="18.88" fill="#f0804e"/><rect x="910.05" y="606.86" width="5.95" height="18.88" fill="#fdcb26"/><rect x="252.11" y="625.34" width="9.29" height="18.88" fill="#4c02a1"/><rect x="261.00" y="625.34" width="27.07" height="18.88" fill="#0d0887"/><rect x="287.68" y="625.34" width="9.29" height="18.88" fill="#7b02a8"/><rect x="296.57" y="625.34" width="9.29" height="18.88" fill="#db5c68"/><rect x="305.46" y="625.34" width="9.29" height="18.88" fill="#a31e9a"/><rect x="314.35" y="625.34" width="18.18" height="18.88" fill="#c23c81"/><rect x="332.13" y="625.34" width="9.29" height="18.88" fill="#a31e9a"/><rect x="341.02" y="625.34" width="9.29" height="18.88" fill="#7b02a8"/><rect x="349.91" y="625.34" width="18.18" height="18.88" fill="#a31e9a"/><rect x="367.69" y="625.34" width="9.29" height="18.88" fill="#c23c81"/><rect x="376.59" y="625.34" width="9.29" height="18.88" fill="#db5c68"/><rect x="385.48" y="625.34" width="18.18" height="18.88" fill="#7b02a8"/><rect x="403.26" y="625.34" width="9.29" height="18.88" fill="#fb9f3a"/><rect x="412.15" y="625.34" width="9.29" height="18.88" fill="#4c02a1"/><rect x="421.04" y="625.34" width="9.29" height="18.88" fill="#db5c68"/><rect x="429.93" y="625.34" width="9.29" height="18.88" fill="#f0804e"/><rect x="438.82" y="625.34" width="9.29" height="18.88" fill="#c23c81"/><rect x="447.71" y="625.34" width="9.29" height="18.88" fill="#fb9f3a"/><rect x="456.60" y="625.34" width="18.18" height="18.88" fill="#db5c68"/><rect x="474.39" y="625.34" width="9.29" height="18.88" fill="#f0804e"/><rect x="483.28" y="625.34" width="9.29" height="18.88" fill="#c23c81"/><rect x="492.17" y="625.34" width="9.29" height="18.88" fill="#db5c68"/><rect x="501.06" y="625.34" width="9.29" height="18.88" fill="#fb9f3a"/><rect x="509.95" y="625.34" width="9.29" height="18.88" fill="#a31e9a"/><rect x="518.84" y="625.34" width="9.29" height="18.88" fill="#f0804e"/><rect x="527.73" y="625.34" width="27.07" height="18.88" fill="#db5c68"/><rect x="554.40" y="625.34" width="9.29" height="18.88" fill="#f0804e"/><rect x="563.30" y="625.34" width="9.29" height="18.88" fill="#db5c68"/><rect x="572.19" y="625.34" width="9.29" height="18.88" fill="#fb9f3a"/><rect x="581.08" y="625.34" width="18.18" height="18.88" fill="#f0804e"/><rect x="598.86" y="625.34" width="9.29" height="18.88" fill="#fb9f3a"/><rect x="607.75" y="625.34" width="9.29" height="18.88" fill="#c23c81"/><rect x="616.64" y="625.34" width="9.29" height="18.88" fill="#f0804e"/><rect x="625.53" y="625.34" width="9.29" height="18.88" fill="#fdcb26"/><rect x="634.42" y="625.34" width="9.29" height="18.88" fill="#db5c68"/><rect x="643.32" y="625.34" width="9.29" height="18.88" fill="#fb9f3a"/><rect x="652.21" y="625.34" width="18.18" height="18.88" fill="#fdcb26"/><rect x="669.99" y="625.34" width="18.18" height="18.88" fill="#f0804e"/><rect x="687.77" y="625.34" width="9.29" height="18.88" fill="#fdcb26"/><rect x="696.66" y="625.34" width="9.29" height="18.88" fill="#fb9f3a"/><rect x="705.55" y="625.34" width="9.29" height="18.88" fill="#f0804e"/><rect x="714.44" y="625.34" width="18.18" height="18.88" fill="#fdcb26"/><rect x="732.23" y="625.34" width="27.07" height="18.88" fill="#fb9f3a"/><rect x="758.90" y="625.34" width="9.29" height="18.88" fill="#fdcb26"/><rect x="767.79" y="625.34" width="18.18" height="18.88" fill="#f0804e"/><rect x="785.57" y="625.34" width="9.29" height="18.88" fill="#fb9f3a"/><rect x="794.46" y="625.34" width="9.29" height="18.88" fill="#a31e9a"/><rect x="803.35" y="625.34" width="9.29" height="18.88" fill="#f0804e"/><rect x="812.24" y="625.34" width="9.29" height="18.88" fill="#fdcb26"/><rect x="821.13" y="625.34" width="9.29" height="18.88" fill="#c23c81"/><rect x="830.03" y="625.34" width="9.29" height="18.88" fill="#fb9f3a"/><rect x="838.92" y="625.34" width="9.29" height="18.88" fill="#c23c81"/><rect x="847.81" y="625.34" width="9.29" height="18.88" fill="#f1f525"/><rect x="856.70" y="625.34" width="18.18" height="18.88" fill="#c23c81"/><rect x="874.48" y="625.34" width="9.29" height="18.88" fill="#f0804e"/><rect x="883.37" y="625.34" width="9.29" height="18.88" fill="#c23c81"/><rect x="892.26" y="625.34" width="9.29" height="18.88" fill="#a31e9a"/><rect x="901.15" y="625.34" width="9.29" height="18.88" fill="#c23c81"/><rect x="910.05" y="625.34" width="5.95" height="18.88" fill="#f1f525"/><rect x="243.22" y="643.82" width="71.53" height="18.48" fill="#0d0887"/><rect x="314.35" y="643.82" width="9.29" height="18.48" fill="#7b02a8"/><rect x="323.24" y="643.82" width="9.29" height="18.48" fill="#4c02a1"/><rect x="332.13" y="643.82" width="9.29" height="18.48" fill="#7b02a8"/><rect x="341.02" y="643.82" width="9.29" height="18.48" fill="#a31e9a"/><rect x="349.91" y="643.82" width="9.29" height="18.48" fill="#f0804e"/><rect x="358.80" y="643.82" width="9.29" height="18.48" fill="#7b02a8"/><rect x="367.69" y="643.82" width="9.29" height="18.48" fill="#db5c68"/><rect x="376.59" y="643.82" width="9.29" height="18.48" fill="#a31e9a"/><rect x="385.48" y="643.82" width="18.18" height="18.48" fill="#7b02a8"/><rect x="403.26" y="643.82" width="9.29" height="18.48" fill="#c23c81"/><rect x="412.15" y="643.82" width="9.29" height="18.48" fill="#a31e9a"/><rect x="421.04" y="643.82" width="9.29" height="18.48" fill="#c23c81"/><rect x="429.93" y="643.82" width="27.07" height="18.48" fill="#db5c68"/><rect x="456.60" y="643.82" width="18.18" height="18.48" fill="#a31e9a"/><rect x="474.39" y="643.82" width="18.18" height="18.48" fill="#db5c68"/><rect x="492.17" y="643.82" width="9.29" height="18.48" fill="#c23c81"/><rect x="501.06" y="643.82" width="9.29" height="18.48" fill="#db5c68"/><rect x="509.95" y="643.82" width="18.18" height="18.48" fill="#c23c81"/><rect x="527.73" y="643.82" width="9.29" height="18.48" fill="#f0804e"/><rect x="536.62" y="643.82" width="9.29" height="18.48" fill="#db5c68"/><rect x="545.51" y="643.82" width="9.29" height="18.48" fill="#f0804e"/><rect x="554.40" y="643.82" width="9.29" height="18.48" fill="#c23c81"/><rect x="563.30" y="643.82" width="9.29" height="18.48" fill="#fb9f3a"/><rect x="572.19" y="643.82" width="9.29" height="18.48" fill="#db5c68"/><rect x="581.08" y="643.82" width="9.29" height="18.48" fill="#f0804e"/><rect x="589.97" y="643.82" width="9.29" height="18.48" fill="#fb9f3a"/><rect x="598.86" y="643.82" width="9.29" height="18.48" fill="#f0804e"/><rect x="607.75" y="643.82" width="9.29" height="18.48" fill="#fdcb26"/><rect x="616.64" y="643.82" width="9.29" height="18.48" fill="#fb9f3a"/><rect x="625.53" y="643.82" width="9.29" height="18.48" fill="#f0804e"/><rect x="634.42" y="643.82" width="9.29" height="18.48" fill="#db5c68"/><rect x="643.32" y="643.82" width="9.29" height="18.48" fill="#fdcb26"/><rect x="652.21" y="643.82" width="9.29" height="18.48" fill="#fb9f3a"/><rect x="661.10" y="643.82" width="9.29" height="18.48" fill="#f0804e"/><rect x="669.99" y="643.82" width="9.29" height="18.48" fill="#fdcb26"/><rect x="678.88" y="643.82" width="9.29" height="18.48" fill="#db5c68"/><rect x="687.77" y="643.82" width="9.29" height="18.48" fill="#f0804e"/><rect x="696.66" y="643.82" width="9.29" height="18.48" fill="#db5c68"/><rect x="705.55" y="643.82" width="9.29" height="18.48" fill="#fb9f3a"/><rect x="714.44" y="643.82" width="9.29" height="18.48" fill="#db5c68"/><rect x="723.33" y="643.82" width="9.29" height="18.48" fill="#fdcb26"/><rect x="732.23" y="643.82" width="9.29" height="18.48" fill="#fb9f3a"/><rect x="741.12" y="643.82" width="9.29" height="18.48" fill="#db5c68"/><rect x="750.01" y="643.82" width="9.29" height="18.48" fill="#f1f525"/><rect x="758.90" y="643.82" width="9.29" height="18.48" fill="#db5c68"/><rect x="767.79" y="643.82" width="9.29" height="18.48" fill="#f1f525"/><rect x="776.68" y="643.82" width="9.29" height="18.48" fill="#fb9f3a"/><rect x="785.57" y="643.82" width="27.07" height="18.48" fill="#f1f525"/><rect x="812.24" y="643.82" width="9.29" height="18.48" fill="#fb9f3a"/><rect x="821.13" y="643.82" width="9.29" height="18.48" fill="#db5c68"/><rect x="830.03" y="643.82" width="9.29" height="18.48" fill="#f0804e"/><rect x="838.92" y="643.82" width="18.18" height="18.48" fill="#fdcb26"/><rect x="856.70" y="643.82" width="9.29" height="18.48" fill="#a31e9a"/><rect x="865.59" y="643.82" width="9.29" height="18.48" fill="#fb9f3a"/><rect x="874.48" y="643.82" width="9.29" height="18.48" fill="#db5c68"/><rect x="883.37" y="643.82" width="18.18" height="18.48" fill="#7b02a8"/><rect x="901.15" y="643.82" width="9.29" height="18.48" fill="#0d0887"/><rect x="910.05" y="643.82" width="5.95" height="18.48" fill="#4c02a1"/></g><rect x="242.34" y="448.60" width="460.20" height="278.00" fill="none" stroke="#00bfbf" stroke-width="4.0"/><rect x="150.30" y="142.90" width="767.10" height="611.80" fill="none" stroke="#000" stroke-width="3.2"/><line x1="150.30" y1="754.70" x2="150.30" y2="741.60" stroke="#000" stroke-width="2.8"/><line x1="150.30" y1="142.90" x2="150.30" y2="156.00" stroke="#000" stroke-width="2.8"/><line x1="180.98" y1="754.70" x2="180.98" y2="747.10" stroke="#000" stroke-width="2.3"/><line x1="180.98" y1="142.90" x2="180.98" y2="150.50" stroke="#000" stroke-width="2.3"/><line x1="211.66" y1="754.70" x2="211.66" y2="747.10" stroke="#000" stroke-width="2.3"/><line x1="211.66" y1="142.90" x2="211.66" y2="150.50" stroke="#000" stroke-width="2.3"/><line x1="242.34" y1="754.70" x2="242.34" y2="747.10" stroke="#000" stroke-width="2.3"/><line x1="242.34" y1="142.90" x2="242.34" y2="150.50" stroke="#000" stroke-width="2.3"/><line x1="273.02" y1="754.70" x2="273.02" y2="747.10" stroke="#000" stroke-width="2.3"/><line x1="273.02" y1="142.90" x2="273.02" y2="150.50" stroke="#000" stroke-width="2.3"/><line x1="303.70" y1="754.70" x2="303.70" y2="741.60" stroke="#000" stroke-width="2.8"/><line x1="303.70" y1="142.90" x2="303.70" y2="156.00" stroke="#000" stroke-width="2.8"/><line x1="334.38" y1="754.70" x2="334.38" y2="747.10" stroke="#000" stroke-width="2.3"/><line x1="334.38" y1="142.90" x2="334.38" y2="150.50" stroke="#000" stroke-width="2.3"/><line x1="365.06" y1="754.70" x2="365.06" y2="747.10" stroke="#000" stroke-width="2.3"/><line x1="365.06" y1="142.90" x2="365.06" y2="150.50" stroke="#000" stroke-width="2.3"/><line x1="395.74" y1="754.70" x2="395.74" y2="747.10" stroke="#000" stroke-width="2.3"/><line x1="395.74" y1="142.90" x2="395.74" y2="150.50" stroke="#000" stroke-width="2.3"/><line x1="426.42" y1="754.70" x2="426.42" y2="747.10" stroke="#000" stroke-width="2.3"/><line x1="426.42" y1="142.90" x2="426.42" y2="150.50" stroke="#000" stroke-width="2.3"/><line x1="457.10" y1="754.70" x2="457.10" y2="741.60" stroke="#000" stroke-width="2.8"/><line x1="457.10" y1="142.90" x2="457.10" y2="156.00" stroke="#000" stroke-width="2.8"/><line x1="487.78" y1="754.70" x2="487.78" y2="747.10" stroke="#000" stroke-width="2.3"/><line x1="487.78" y1="142.90" x2="487.78" y2="150.50" stroke="#000" stroke-width="2.3"/><line x1="518.46" y1="754.70" x2="518.46" y2="747.10" stroke="#000" stroke-width="2.3"/><line x1="518.46" y1="142.90" x2="518.46" y2="150.50" stroke="#000" stroke-width="2.3"/><line x1="549.14" y1="754.70" x2="549.14" y2="747.10" stroke="#000" stroke-width="2.3"/><line x1="549.14" y1="142.90" x2="549.14" y2="150.50" stroke="#000" stroke-width="2.3"/><line x1="579.82" y1="754.70" x2="579.82" y2="747.10" stroke="#000" stroke-width="2.3"/><line x1="579.82" y1="142.90" x2="579.82" y2="150.50" stroke="#000" stroke-width="2.3"/><line x1="610.50" y1="754.70" x2="610.50" y2="741.60" stroke="#000" stroke-width="2.8"/><line x1="610.50" y1="142.90" x2="610.50" y2="156.00" stroke="#000" stroke-width="2.8"/><line x1="641.18" y1="754.70" x2="641.18" y2="747.10" stroke="#000" stroke-width="2.3"/><line x1="641.18" y1="142.90" x2="641.18" y2="150.50" stroke="#000" stroke-width="2.3"/><line x1="671.86" y1="754.70" x2="671.86" y2="747.10" stroke="#000" stroke-width="2.3"/><line x1="671.86" y1="142.90" x2="671.86" y2="150.50" stroke="#000" stroke-width="2.3"/><line x1="702.54" y1="754.70" x2="702.54" y2="747.10" stroke="#000" stroke-width="2.3"/><line x1="702.54" y1="142.90" x2="702.54" y2="150.50" stroke="#000" stroke-width="2.3"/><line x1="733.22" y1="754.70" x2="733.22" y2="747.10" stroke="#000" stroke-width="2.3"/><line x1="733.22" y1="142.90" x2="733.22" y2="150.50" stroke="#000" stroke-width="2.3"/><line x1="763.90" y1="754.70" x2="763.90" y2="741.60" stroke="#000" stroke-width="2.8"/><line x1="763.90" y1="142.90" x2="763.90" y2="156.00" stroke="#000" stroke-width="2.8"/><line x1="794.58" y1="754.70" x2="794.58" y2="747.10" stroke="#000" stroke-width="2.3"/><line x1="794.58" y1="142.90" x2="794.58" y2="150.50" stroke="#000" stroke-width="2.3"/><line x1="825.26" y1="754.70" x2="825.26" y2="747.10" stroke="#000" stroke-width="2.3"/><line x1="825.26" y1="142.90" x2="825.26" y2="150.50" stroke="#000" stroke-width="2.3"/><line x1="855.94" y1="754.70" x2="855.94" y2="747.10" stroke="#000" stroke-width="2.3"/><line x1="855.94" y1="142.90" x2="855.94" y2="150.50" stroke="#000" stroke-width="2.3"/><line x1="886.62" y1="754.70" x2="886.62" y2="747.10" stroke="#000" stroke-width="2.3"/><line x1="886.62" y1="142.90" x2="886.62" y2="150.50" stroke="#000" stroke-width="2.3"/><line x1="917.30" y1="754.70" x2="917.30" y2="741.60" stroke="#000" stroke-width="2.8"/><line x1="917.30" y1="142.90" x2="917.30" y2="156.00" stroke="#000" stroke-width="2.8"/><line x1="150.30" y1="754.40" x2="163.40" y2="754.40" stroke="#000" stroke-width="2.8"/><line x1="917.40" y1="754.40" x2="904.30" y2="754.40" stroke="#000" stroke-width="2.8"/><line x1="150.30" y1="643.20" x2="163.40" y2="643.20" stroke="#000" stroke-width="2.8"/><line x1="917.40" y1="643.20" x2="904.30" y2="643.20" stroke="#000" stroke-width="2.8"/><line x1="150.30" y1="532.00" x2="163.40" y2="532.00" stroke="#000" stroke-width="2.8"/><line x1="917.40" y1="532.00" x2="904.30" y2="532.00" stroke="#000" stroke-width="2.8"/><line x1="150.30" y1="420.80" x2="163.40" y2="420.80" stroke="#000" stroke-width="2.8"/><line x1="917.40" y1="420.80" x2="904.30" y2="420.80" stroke="#000" stroke-width="2.8"/><line x1="150.30" y1="309.60" x2="163.40" y2="309.60" stroke="#000" stroke-width="2.8"/><line x1="917.40" y1="309.60" x2="904.30" y2="309.60" stroke="#000" stroke-width="2.8"/><line x1="150.30" y1="198.40" x2="163.40" y2="198.40" stroke="#000" stroke-width="2.8"/><line x1="917.40" y1="198.40" x2="904.30" y2="198.40" stroke="#000" stroke-width="2.8"/><line x1="150.30" y1="726.60" x2="157.90" y2="726.60" stroke="#000" stroke-width="2.3"/><line x1="917.40" y1="726.60" x2="909.80" y2="726.60" stroke="#000" stroke-width="2.3"/><line x1="150.30" y1="698.80" x2="157.90" y2="698.80" stroke="#000" stroke-width="2.3"/><line x1="917.40" y1="698.80" x2="909.80" y2="698.80" stroke="#000" stroke-width="2.3"/><line x1="150.30" y1="671.00" x2="157.90" y2="671.00" stroke="#000" stroke-width="2.3"/><line x1="917.40" y1="671.00" x2="909.80" y2="671.00" stroke="#000" stroke-width="2.3"/><line x1="150.30" y1="615.40" x2="157.90" y2="615.40" stroke="#000" stroke-width="2.3"/><line x1="917.40" y1="615.40" x2="909.80" y2="615.40" stroke="#000" stroke-width="2.3"/><line x1="150.30" y1="587.60" x2="157.90" y2="587.60" stroke="#000" stroke-width="2.3"/><line x1="917.40" y1="587.60" x2="909.80" y2="587.60" stroke="#000" stroke-width="2.3"/><line x1="150.30" y1="559.80" x2="157.90" y2="559.80" stroke="#000" stroke-width="2.3"/><line x1="917.40" y1="559.80" x2="909.80" y2="559.80" stroke="#000" stroke-width="2.3"/><line x1="150.30" y1="504.20" x2="157.90" y2="504.20" stroke="#000" stroke-width="2.3"/><line x1="917.40" y1="504.20" x2="909.80" y2="504.20" stroke="#000" stroke-width="2.3"/><line x1="150.30" y1="476.40" x2="157.90" y2="476.40" stroke="#000" stroke-width="2.3"/><line x1="917.40" y1="476.40" x2="909.80" y2="476.40" stroke="#000" stroke-width="2.3"/><line x1="150.30" y1="448.60" x2="157.90" y2="448.60" stroke="#000" stroke-width="2.3"/><line x1="917.40" y1="448.60" x2="909.80" y2="448.60" stroke="#000" stroke-width="2.3"/><line x1="150.30" y1="393.00" x2="157.90" y2="393.00" stroke="#000" stroke-width="2.3"/><line x1="917.40" y1="393.00" x2="909.80" y2="393.00" stroke="#000" stroke-width="2.3"/><line x1="150.30" y1="365.20" x2="157.90" y2="365.20" stroke="#000" stroke-width="2.3"/><line x1="917.40" y1="365.20" x2="909.80" y2="365.20" stroke="#000" stroke-width="2.3"/><line x1="150.30" y1="337.40" x2="157.90" y2="337.40" stroke="#000" stroke-width="2.3"/><line x1="917.40" y1="337.40" x2="909.80" y2="337.40" stroke="#000" stroke-width="2.3"/><line x1="150.30" y1="281.80" x2="157.90" y2="281.80" stroke="#000" stroke-width="2.3"/><line x1="917.40" y1="281.80" x2="909.80" y2="281.80" stroke="#000" stroke-width="2.3"/><line x1="150.30" y1="254.00" x2="157.90" y2="254.00" stroke="#000" stroke-width="2.3"/><line x1="917.40" y1="254.00" x2="909.80" y2="254.00" stroke="#000" stroke-width="2.3"/><line x1="150.30" y1="226.20" x2="157.90" y2="226.20" stroke="#000" stroke-width="2.3"/><line x1="917.40" y1="226.20" x2="909.80" y2="226.20" stroke="#000" stroke-width="2.3"/><line x1="150.30" y1="170.60" x2="157.90" y2="170.60" stroke="#000" stroke-width="2.3"/><line x1="917.40" y1="170.60" x2="909.80" y2="170.60" stroke="#000" stroke-width="2.3"/><line x1="150.30" y1="142.80" x2="157.90" y2="142.80" stroke="#000" stroke-width="2.3"/><line x1="917.40" y1="142.80" x2="909.80" y2="142.80" stroke="#000" stroke-width="2.3"/><text transform="translate(0.00 769.20) scale(1.0411 1.0000)" x="109.59" font-size="43.5" style="font-family:'Liberation Serif',serif" stroke="#000" stroke-width="0.34">0</text><text transform="translate(0.00 658.00) scale(1.0435 1.0000)" x="109.08" font-size="43.5" style="font-family:'Liberation Serif',serif" stroke="#000" stroke-width="0.34">2</text><text transform="translate(0.00 546.80) scale(1.0864 1.0000)" x="104.10" font-size="43.5" style="font-family:'Liberation Serif',serif" stroke="#000" stroke-width="0.32">4</text><text transform="translate(0.00 435.60) scale(1.0133 1.0000)" x="112.64" font-size="43.5" style="font-family:'Liberation Serif',serif" stroke="#000" stroke-width="0.35">6</text><text transform="translate(0.00 324.40) scale(1.0411 1.0000)" x="109.59" font-size="43.5" style="font-family:'Liberation Serif',serif" stroke="#000" stroke-width="0.34">8</text><text transform="translate(0.00 213.20) scale(1.0090 1.0000)" x="88.09 113.47" font-size="43.5" style="font-family:'Liberation Serif',serif" stroke="#000" stroke-width="0.35">10</text><text transform="translate(63.90 541.15) rotate(-90) scale(0.9943 1)" font-size="41.2" style="font-family:'Liberation Sans',sans-serif;font-style:italic" stroke="#000" stroke-width="0.00">ħω</text><text transform="translate(63.90 0.00) rotate(-90) scale(0.9919 1)" x="-476.31 -459.80 -422.76 -403.30 -373.15" font-size="43.5" style="font-family:'Liberation Serif',serif" stroke="#000" stroke-width="0.35">(meV)</text><text transform="translate(0.00 211.40) scale(0.9964 1.0000)" x="188.90 205.91 227.66" font-size="42.4" style="font-family:'Liberation Serif',serif" fill="#fff" stroke="#fff" stroke-width="7.5" stroke-linejoin="round">(a)</text><text transform="translate(0.00 211.40) scale(0.9730 1.0000)" x="260.73" font-size="42.4" style="font-family:'Liberation Serif',serif" fill="#fff" stroke="#fff" stroke-width="7.5" stroke-linejoin="round">D</text><text transform="translate(284.65 196.50) scale(1.0833 1.0833)" font-size="26" style="font-family:'Liberation Sans',sans-serif" fill="#fff" stroke="#fff" stroke-width="7.5" stroke-linejoin="round">7</text><text transform="translate(284.94 221.72) scale(1.0612 1.1081)" font-size="26" style="font-family:'Liberation Sans',sans-serif" fill="#fff" stroke="#fff" stroke-width="7.5" stroke-linejoin="round">3</text><text transform="translate(0.00 211.40) scale(1.0074 1.0000)" x="300.45 325.44" font-size="42.4" style="font-family:'Liberation Serif',serif" fill="#fff" stroke="#fff" stroke-width="7.5" stroke-linejoin="round">Li</text><text transform="translate(340.26 196.74) scale(1.1180 1.0541)" font-size="26" style="font-family:'Liberation Sans',sans-serif" fill="#fff" stroke="#fff" stroke-width="7.5" stroke-linejoin="round">193</text><text transform="translate(0.00 211.40) scale(1.0971 1.0000)" x="356.68 371.77" font-size="42.4" style="font-family:'Liberation Serif',serif" fill="#fff" stroke="#fff" stroke-width="7.5" stroke-linejoin="round">Ir</text><text transform="translate(425.75 217.10) scale(1.0833 1.0575)" font-size="26" style="font-family:'Liberation Sans',sans-serif" fill="#fff" stroke="#fff" stroke-width="7.5" stroke-linejoin="round">2</text><text transform="translate(0.00 211.40) scale(1.0128 1.0000)" x="437.80" font-size="42.4" style="font-family:'Liberation Serif',serif" fill="#fff" stroke="#fff" stroke-width="7.5" stroke-linejoin="round">O</text><text transform="translate(474.95 216.83) scale(1.1583 1.0865)" font-size="26" style="font-family:'Liberation Sans',sans-serif" fill="#fff" stroke="#fff" stroke-width="7.5" stroke-linejoin="round">6</text><text transform="translate(0.00 257.80) scale(1.0286 1.0000)" x="182.71" font-size="42.4" style="font-family:'Liberation Serif',serif" fill="#fff" stroke="#fff" stroke-width="7.5" stroke-linejoin="round">T</text><text transform="translate(0.00 257.80) scale(1.2000 1.0000)" x="179.40" font-size="42.4" style="font-family:'Liberation Serif',serif" fill="#fff" stroke="#fff" stroke-width="7.5" stroke-linejoin="round">=</text><text transform="translate(0.00 257.80) scale(0.9610 1.0000)" x="257.09 281.85 295.12 319.15 335.12 360.16 365.16 387.98" font-size="42.4" style="font-family:'Liberation Serif',serif" fill="#fff" stroke="#fff" stroke-width="7.5" stroke-linejoin="round">4.5(1) K</text><text transform="translate(0.00 300.00) scale(0.9793 1.0000)" x="193.59 219.71 246.69 279.40 311.50 343.36 356.49" font-size="42.4" style="font-family:'Liberation Serif',serif" fill="#fff" stroke="#fff" stroke-width="7.5" stroke-linejoin="round">SEQUOIA</text><text transform="translate(0.00 211.40) scale(0.9964 1.0000)" x="188.90 205.91 227.66" font-size="42.4" style="font-family:'Liberation Serif',serif" stroke="#000" stroke-width="0.35">(a)</text><text transform="translate(0.00 211.40) scale(0.9730 1.0000)" x="260.73" font-size="42.4" style="font-family:'Liberation Serif',serif" stroke="#000" stroke-width="0.36">D</text><text transform="translate(284.65 196.50) scale(1.0833 1.0833)" font-size="26" style="font-family:'Liberation Sans',sans-serif" stroke="#000" stroke-width="0.00">7</text><text transform="translate(284.94 221.72) scale(1.0612 1.1081)" font-size="26" style="font-family:'Liberation Sans',sans-serif" stroke="#000" stroke-width="0.00">3</text><text transform="translate(0.00 211.40) scale(1.0074 1.0000)" x="300.45 325.44" font-size="42.4" style="font-family:'Liberation Serif',serif" stroke="#000" stroke-width="0.35">Li</text><text transform="translate(340.26 196.74) scale(1.1180 1.0541)" font-size="26" style="font-family:'Liberation Sans',sans-serif" stroke="#000" stroke-width="0.00">193</text><text transform="translate(0.00 211.40) scale(1.0971 1.0000)" x="356.68 371.77" font-size="42.4" style="font-family:'Liberation Serif',serif" stroke="#000" stroke-width="0.32">Ir</text><text transform="translate(425.75 217.10) scale(1.0833 1.0575)" font-size="26" style="font-family:'Liberation Sans',sans-serif" stroke="#000" stroke-width="0.00">2</text><text transform="translate(0.00 211.40) scale(1.0128 1.0000)" x="437.80" font-size="42.4" style="font-family:'Liberation Serif',serif" stroke="#000" stroke-width="0.35">O</text><text transform="translate(474.95 216.83) scale(1.1583 1.0865)" font-size="26" style="font-family:'Liberation Sans',sans-serif" stroke="#000" stroke-width="0.00">6</text><text transform="translate(0.00 257.80) scale(1.0286 1.0000)" x="182.71" font-size="42.4" style="font-family:'Liberation Serif',serif" stroke="#000" stroke-width="0.34">T</text><text transform="translate(0.00 257.80) scale(1.2000 1.0000)" x="179.40" font-size="42.4" style="font-family:'Liberation Serif',serif" stroke="#000" stroke-width="0.29">=</text><text transform="translate(0.00 257.80) scale(0.9610 1.0000)" x="257.09 281.85 295.12 319.15 335.12 360.16 365.16 387.98" font-size="42.4" style="font-family:'Liberation Serif',serif" stroke="#000" stroke-width="0.36">4.5(1) K</text><text transform="translate(0.00 300.00) scale(0.9793 1.0000)" x="193.59 219.71 246.69 279.40 311.50 343.36 356.49" font-size="42.4" style="font-family:'Liberation Serif',serif" stroke="#000" stroke-width="0.36">SEQUOIA</text><rect x="150.30" y="800.00" width="767.10" height="305.50" fill="none" stroke="#000" stroke-width="3.2"/><line x1="150.30" y1="1105.50" x2="150.30" y2="1092.40" stroke="#000" stroke-width="2.8"/><line x1="150.30" y1="800.00" x2="150.30" y2="813.10" stroke="#000" stroke-width="2.8"/><line x1="180.98" y1="1105.50" x2="180.98" y2="1097.90" stroke="#000" stroke-width="2.3"/><line x1="180.98" y1="800.00" x2="180.98" y2="807.60" stroke="#000" stroke-width="2.3"/><line x1="211.66" y1="1105.50" x2="211.66" y2="1097.90" stroke="#000" stroke-width="2.3"/><line x1="211.66" y1="800.00" x2="211.66" y2="807.60" stroke="#000" stroke-width="2.3"/><line x1="242.34" y1="1105.50" x2="242.34" y2="1097.90" stroke="#000" stroke-width="2.3"/><line x1="242.34" y1="800.00" x2="242.34" y2="807.60" stroke="#000" stroke-width="2.3"/><line x1="273.02" y1="1105.50" x2="273.02" y2="1097.90" stroke="#000" stroke-width="2.3"/><line x1="273.02" y1="800.00" x2="273.02" y2="807.60" stroke="#000" stroke-width="2.3"/><line x1="303.70" y1="1105.50" x2="303.70" y2="1092.40" stroke="#000" stroke-width="2.8"/><line x1="303.70" y1="800.00" x2="303.70" y2="813.10" stroke="#000" stroke-width="2.8"/><line x1="334.38" y1="1105.50" x2="334.38" y2="1097.90" stroke="#000" stroke-width="2.3"/><line x1="334.38" y1="800.00" x2="334.38" y2="807.60" stroke="#000" stroke-width="2.3"/><line x1="365.06" y1="1105.50" x2="365.06" y2="1097.90" stroke="#000" stroke-width="2.3"/><line x1="365.06" y1="800.00" x2="365.06" y2="807.60" stroke="#000" stroke-width="2.3"/><line x1="395.74" y1="1105.50" x2="395.74" y2="1097.90" stroke="#000" stroke-width="2.3"/><line x1="395.74" y1="800.00" x2="395.74" y2="807.60" stroke="#000" stroke-width="2.3"/><line x1="426.42" y1="1105.50" x2="426.42" y2="1097.90" stroke="#000" stroke-width="2.3"/><line x1="426.42" y1="800.00" x2="426.42" y2="807.60" stroke="#000" stroke-width="2.3"/><line x1="457.10" y1="1105.50" x2="457.10" y2="1092.40" stroke="#000" stroke-width="2.8"/><line x1="457.10" y1="800.00" x2="457.10" y2="813.10" stroke="#000" stroke-width="2.8"/><line x1="487.78" y1="1105.50" x2="487.78" y2="1097.90" stroke="#000" stroke-width="2.3"/><line x1="487.78" y1="800.00" x2="487.78" y2="807.60" stroke="#000" stroke-width="2.3"/><line x1="518.46" y1="1105.50" x2="518.46" y2="1097.90" stroke="#000" stroke-width="2.3"/><line x1="518.46" y1="800.00" x2="518.46" y2="807.60" stroke="#000" stroke-width="2.3"/><line x1="549.14" y1="1105.50" x2="549.14" y2="1097.90" stroke="#000" stroke-width="2.3"/><line x1="549.14" y1="800.00" x2="549.14" y2="807.60" stroke="#000" stroke-width="2.3"/><line x1="579.82" y1="1105.50" x2="579.82" y2="1097.90" stroke="#000" stroke-width="2.3"/><line x1="579.82" y1="800.00" x2="579.82" y2="807.60" stroke="#000" stroke-width="2.3"/><line x1="610.50" y1="1105.50" x2="610.50" y2="1092.40" stroke="#000" stroke-width="2.8"/><line x1="610.50" y1="800.00" x2="610.50" y2="813.10" stroke="#000" stroke-width="2.8"/><line x1="641.18" y1="1105.50" x2="641.18" y2="1097.90" stroke="#000" stroke-width="2.3"/><line x1="641.18" y1="800.00" x2="641.18" y2="807.60" stroke="#000" stroke-width="2.3"/><line x1="671.86" y1="1105.50" x2="671.86" y2="1097.90" stroke="#000" stroke-width="2.3"/><line x1="671.86" y1="800.00" x2="671.86" y2="807.60" stroke="#000" stroke-width="2.3"/><line x1="702.54" y1="1105.50" x2="702.54" y2="1097.90" stroke="#000" stroke-width="2.3"/><line x1="702.54" y1="800.00" x2="702.54" y2="807.60" stroke="#000" stroke-width="2.3"/><line x1="733.22" y1="1105.50" x2="733.22" y2="1097.90" stroke="#000" stroke-width="2.3"/><line x1="733.22" y1="800.00" x2="733.22" y2="807.60" stroke="#000" stroke-width="2.3"/><line x1="763.90" y1="1105.50" x2="763.90" y2="1092.40" stroke="#000" stroke-width="2.8"/><line x1="763.90" y1="800.00" x2="763.90" y2="813.10" stroke="#000" stroke-width="2.8"/><line x1="794.58" y1="1105.50" x2="794.58" y2="1097.90" stroke="#000" stroke-width="2.3"/><line x1="794.58" y1="800.00" x2="794.58" y2="807.60" stroke="#000" stroke-width="2.3"/><line x1="825.26" y1="1105.50" x2="825.26" y2="1097.90" stroke="#000" stroke-width="2.3"/><line x1="825.26" y1="800.00" x2="825.26" y2="807.60" stroke="#000" stroke-width="2.3"/><line x1="855.94" y1="1105.50" x2="855.94" y2="1097.90" stroke="#000" stroke-width="2.3"/><line x1="855.94" y1="800.00" x2="855.94" y2="807.60" stroke="#000" stroke-width="2.3"/><line x1="886.62" y1="1105.50" x2="886.62" y2="1097.90" stroke="#000" stroke-width="2.3"/><line x1="886.62" y1="800.00" x2="886.62" y2="807.60" stroke="#000" stroke-width="2.3"/><line x1="917.30" y1="1105.50" x2="917.30" y2="1092.40" stroke="#000" stroke-width="2.8"/><line x1="917.30" y1="800.00" x2="917.30" y2="813.10" stroke="#000" stroke-width="2.8"/><line x1="150.30" y1="1063.50" x2="163.40" y2="1063.50" stroke="#000" stroke-width="2.8"/><line x1="917.40" y1="1063.50" x2="904.30" y2="1063.50" stroke="#000" stroke-width="2.8"/><line x1="150.30" y1="958.10" x2="163.40" y2="958.10" stroke="#000" stroke-width="2.8"/><line x1="917.40" y1="958.10" x2="904.30" y2="958.10" stroke="#000" stroke-width="2.8"/><line x1="150.30" y1="852.70" x2="163.40" y2="852.70" stroke="#000" stroke-width="2.8"/><line x1="917.40" y1="852.70" x2="904.30" y2="852.70" stroke="#000" stroke-width="2.8"/><line x1="150.30" y1="1084.58" x2="157.90" y2="1084.58" stroke="#000" stroke-width="2.3"/><line x1="917.40" y1="1084.58" x2="909.80" y2="1084.58" stroke="#000" stroke-width="2.3"/><line x1="150.30" y1="1042.42" x2="157.90" y2="1042.42" stroke="#000" stroke-width="2.3"/><line x1="917.40" y1="1042.42" x2="909.80" y2="1042.42" stroke="#000" stroke-width="2.3"/><line x1="150.30" y1="1021.34" x2="157.90" y2="1021.34" stroke="#000" stroke-width="2.3"/><line x1="917.40" y1="1021.34" x2="909.80" y2="1021.34" stroke="#000" stroke-width="2.3"/><line x1="150.30" y1="1000.26" x2="157.90" y2="1000.26" stroke="#000" stroke-width="2.3"/><line x1="917.40" y1="1000.26" x2="909.80" y2="1000.26" stroke="#000" stroke-width="2.3"/><line x1="150.30" y1="979.18" x2="157.90" y2="979.18" stroke="#000" stroke-width="2.3"/><line x1="917.40" y1="979.18" x2="909.80" y2="979.18" stroke="#000" stroke-width="2.3"/><line x1="150.30" y1="937.02" x2="157.90" y2="937.02" stroke="#000" stroke-width="2.3"/><line x1="917.40" y1="937.02" x2="909.80" y2="937.02" stroke="#000" stroke-width="2.3"/><line x1="150.30" y1="915.94" x2="157.90" y2="915.94" stroke="#000" stroke-width="2.3"/><line x1="917.40" y1="915.94" x2="909.80" y2="915.94" stroke="#000" stroke-width="2.3"/><line x1="150.30" y1="894.86" x2="157.90" y2="894.86" stroke="#000" stroke-width="2.3"/><line x1="917.40" y1="894.86" x2="909.80" y2="894.86" stroke="#000" stroke-width="2.3"/><line x1="150.30" y1="873.78" x2="157.90" y2="873.78" stroke="#000" stroke-width="2.3"/><line x1="917.40" y1="873.78" x2="909.80" y2="873.78" stroke="#000" stroke-width="2.3"/><line x1="150.30" y1="831.62" x2="157.90" y2="831.62" stroke="#000" stroke-width="2.3"/><line x1="917.40" y1="831.62" x2="909.80" y2="831.62" stroke="#000" stroke-width="2.3"/><line x1="150.30" y1="810.54" x2="157.90" y2="810.54" stroke="#000" stroke-width="2.3"/><line x1="917.40" y1="810.54" x2="909.80" y2="810.54" stroke="#000" stroke-width="2.3"/><text transform="translate(0.00 1078.10) scale(1.0557 1.0000)" x="49.69 72.84 84.66 107.98" font-size="43.5" style="font-family:'Liberation Serif',serif" stroke="#000" stroke-width="0.33">0.00</text><text transform="translate(0.00 972.70) scale(1.0555 1.0000)" x="49.73 72.94 84.82 108.08" font-size="43.5" style="font-family:'Liberation Serif',serif" stroke="#000" stroke-width="0.33">0.05</text><text transform="translate(0.00 867.30) scale(1.0193 1.0000)" x="51.85 75.63 87.20 112.23" font-size="43.5" style="font-family:'Liberation Serif',serif" stroke="#000" stroke-width="0.34">0.10</text><text transform="translate(28.90 0.00) rotate(-90) scale(0.8914 1)" x="-1201.54 -1185.05 -1168.04 -1133.12" font-size="43.5" style="font-family:'Liberation Serif',serif" stroke="#000" stroke-width="0.39">I(Q)</text><text transform="translate(28.90 0.00) rotate(-90) scale(1.0644 1)" x="-925.41 -909.98 -887.97 -875.03 -855.60 -840.30 -828.30 -812.16 -797.06" font-size="43.5" style="font-family:'Liberation Serif',serif" stroke="#000" stroke-width="0.33">(b/sr/Ir)</text><text transform="translate(0.00 1148.40) scale(1.0443 1.0000)" x="115.63 138.86 150.76" font-size="43.5" style="font-family:'Liberation Serif',serif" stroke="#000" stroke-width="0.34">0.0</text><text transform="translate(0.00 1148.40) scale(1.0438 1.0000)" x="262.69 286.00 297.84" font-size="43.5" style="font-family:'Liberation Serif',serif" stroke="#000" stroke-width="0.34">0.5</text><text transform="translate(0.00 1148.40) scale(0.9951 1.0000)" x="429.12 454.18 467.01" font-size="43.5" style="font-family:'Liberation Serif',serif" stroke="#000" stroke-width="0.35">1.0</text><text transform="translate(0.00 1148.40) scale(0.9932 1.0000)" x="584.46 609.65 622.48" font-size="43.5" style="font-family:'Liberation Serif',serif" stroke="#000" stroke-width="0.35">1.5</text><text transform="translate(0.00 1148.40) scale(1.0380 1.0000)" x="707.09 730.74 742.81" font-size="43.5" style="font-family:'Liberation Serif',serif" stroke="#000" stroke-width="0.34">2.0</text><text transform="translate(0.00 1148.40) scale(1.0372 1.0000)" x="855.59 879.33 891.36" font-size="43.5" style="font-family:'Liberation Serif',serif" stroke="#000" stroke-width="0.34">2.5</text><text transform="translate(460.67 1205.50) scale(0.9670 1.0000)" font-size="41.2" style="font-family:'Liberation Sans',sans-serif;font-style:italic" stroke="#000" stroke-width="0.00">Q</text><text transform="translate(503.20 1205.50) scale(0.9182 1.0000)" font-size="41.2" style="font-family:'Liberation Sans',sans-serif" stroke="#000" stroke-width="0.00">(</text><text transform="translate(518.35 1205.50) scale(0.9248 1.0000)" font-size="41.2" style="font-family:'Liberation Sans',sans-serif;font-style:italic" stroke="#000" stroke-width="0.00">Å</text><text transform="translate(549.20 1198.03) scale(1.2000 1.5000)" font-size="29" style="font-family:'Liberation Sans',sans-serif" stroke="#000" stroke-width="0.00">−</text><text transform="translate(570.78 1192.00) scale(0.9440 0.9580)" font-size="29" style="font-family:'Liberation Sans',sans-serif" stroke="#000" stroke-width="0.00">1</text><text transform="translate(590.37 1205.50) scale(0.9182 1.0000)" font-size="41.2" style="font-family:'Liberation Sans',sans-serif" stroke="#000" stroke-width="0.00">)</text><text transform="translate(0.00 858.20) scale(0.9882 1.0000)" x="189.69 207.42 231.64" font-size="43.5" style="font-family:'Liberation Serif',serif" stroke="#000" stroke-width="0.35">(b)</text><text transform="translate(336.23 859.10) scale(1.0245 1.0000)" font-size="41.2" style="font-family:'Liberation Sans',sans-serif;font-style:italic" stroke="#000" stroke-width="0.00">ħω</text><text transform="translate(400.94 859.10) scale(0.9310 1.0000)" font-size="41.2" style="font-family:'Liberation Sans',sans-serif" stroke="#000" stroke-width="0.00">∈</text><text transform="translate(0.00 859.10) scale(0.9848 1.0000)" x="447.85 464.55 488.17 501.06 526.70 551.08" font-size="43.5" style="font-family:'Liberation Serif',serif" stroke="#000" stroke-width="0.36">[2,10]</text><text transform="translate(0.00 859.10) scale(1.0294 1.0000)" x="552.41 588.19 606.57" font-size="43.5" style="font-family:'Liberation Serif',serif" stroke="#000" stroke-width="0.34">meV</text><line x1="150.3" y1="1063.50" x2="917.4" y2="1063.50" stroke="#000" stroke-width="5.5" stroke-dasharray="21 9.24"/><path d="M288.36 979.90V1009.50M276.86 979.90h23M276.86 1009.50h23" stroke="#f00" stroke-width="3.4" fill="none"/><rect x="276.86" y="983.20" width="23.00" height="23.00" fill="#fff" stroke="#f00" stroke-width="3.9"/><path d="M319.04 1014.80V1042.80M307.54 1014.80h23M307.54 1042.80h23" stroke="#f00" stroke-width="3.4" fill="none"/><rect x="307.54" y="1017.30" width="23.00" height="23.00" fill="#fff" stroke="#f00" stroke-width="3.9"/><rect x="338.22" y="1026.00" width="23.00" height="23.00" fill="#fff" stroke="#f00" stroke-width="3.9"/><rect x="368.90" y="1041.70" width="23.00" height="23.00" fill="#fff" stroke="#f00" stroke-width="3.9"/><rect x="399.58" y="1052.40" width="23.00" height="23.00" fill="#fff" stroke="#f00" stroke-width="3.9"/><rect x="430.26" y="1047.10" width="23.00" height="23.00" fill="#fff" stroke="#f00" stroke-width="3.9"/><rect x="460.94" y="1040.10" width="23.00" height="23.00" fill="#fff" stroke="#f00" stroke-width="3.9"/><rect x="491.62" y="1032.70" width="23.00" height="23.00" fill="#fff" stroke="#f00" stroke-width="3.9"/><rect x="522.30" y="1032.90" width="23.00" height="23.00" fill="#fff" stroke="#f00" stroke-width="3.9"/><rect x="552.98" y="1031.00" width="23.00" height="23.00" fill="#fff" stroke="#f00" stroke-width="3.9"/><rect x="583.66" y="1037.70" width="23.00" height="23.00" fill="#fff" stroke="#f00" stroke-width="3.9"/><rect x="614.34" y="1026.60" width="23.00" height="23.00" fill="#fff" stroke="#f00" stroke-width="3.9"/><rect x="645.02" y="1014.80" width="23.00" height="23.00" fill="#fff" stroke="#f00" stroke-width="3.9"/><rect x="675.70" y="1030.80" width="23.00" height="23.00" fill="#fff" stroke="#f00" stroke-width="3.9"/><rect x="706.38" y="1022.70" width="23.00" height="23.00" fill="#fff" stroke="#f00" stroke-width="3.9"/><rect x="737.06" y="1018.00" width="23.00" height="23.00" fill="#fff" stroke="#f00" stroke-width="3.9"/><path d="M779.24 991.50V1020.50M767.74 991.50h23M767.74 1020.50h23" stroke="#f00" stroke-width="3.4" fill="none"/><rect x="767.74" y="994.50" width="23.00" height="23.00" fill="#fff" stroke="#f00" stroke-width="3.9"/><rect x="798.42" y="1006.90" width="23.00" height="23.00" fill="#fff" stroke="#f00" stroke-width="3.9"/><path d="M840.60 1017.80V1048.40M829.10 1017.80h23M829.10 1048.40h23" stroke="#f00" stroke-width="3.4" fill="none"/><rect x="829.10" y="1021.60" width="23.00" height="23.00" fill="#fff" stroke="#f00" stroke-width="3.9"/><path d="M871.28 1011.90V1045.90M859.78 1011.90h23M859.78 1045.90h23" stroke="#f00" stroke-width="3.4" fill="none"/><rect x="859.78" y="1017.40" width="23.00" height="23.00" fill="#fff" stroke="#f00" stroke-width="3.9"/><path d="M901.96 1014.30V1046.30M890.46 1014.30h23M890.46 1046.30h23" stroke="#f00" stroke-width="3.4" fill="none"/><rect x="890.46" y="1018.80" width="23.00" height="23.00" fill="#fff" stroke="#f00" stroke-width="3.9"/><path d="M276.86 874.50h23M276.86 892.50h23" stroke="#000" stroke-width="3.4" fill="none"/><circle cx="288.36" cy="883.50" r="11.45" fill="#fff" stroke="#000" stroke-width="3.9"/><path d="M307.54 941.90h23M307.54 959.50h23" stroke="#000" stroke-width="3.4" fill="none"/><circle cx="319.04" cy="950.70" r="11.45" fill="#fff" stroke="#000" stroke-width="3.9"/><circle cx="349.72" cy="995.30" r="11.45" fill="#fff" stroke="#000" stroke-width="3.9"/><circle cx="380.40" cy="999.30" r="11.45" fill="#fff" stroke="#000" stroke-width="3.9"/><circle cx="411.08" cy="1021.50" r="11.45" fill="#fff" stroke="#000" stroke-width="3.9"/><circle cx="441.76" cy="1028.30" r="11.45" fill="#fff" stroke="#000" stroke-width="3.9"/><circle cx="472.44" cy="1019.40" r="11.45" fill="#fff" stroke="#000" stroke-width="3.9"/><circle cx="503.12" cy="1023.20" r="11.45" fill="#fff" stroke="#000" stroke-width="3.9"/><circle cx="533.80" cy="1033.70" r="11.45" fill="#fff" stroke="#000" stroke-width="3.9"/><circle cx="564.48" cy="1035.80" r="11.45" fill="#fff" stroke="#000" stroke-width="3.9"/><circle cx="595.16" cy="1037.60" r="11.45" fill="#fff" stroke="#000" stroke-width="3.9"/><circle cx="625.84" cy="1042.00" r="11.45" fill="#fff" stroke="#000" stroke-width="3.9"/><circle cx="656.52" cy="1048.50" r="11.45" fill="#fff" stroke="#000" stroke-width="3.9"/><circle cx="687.20" cy="1047.90" r="11.45" fill="#fff" stroke="#000" stroke-width="3.9"/><circle cx="717.88" cy="1054.40" r="11.45" fill="#fff" stroke="#000" stroke-width="3.9"/><circle cx="748.56" cy="1033.30" r="11.45" fill="#fff" stroke="#000" stroke-width="3.9"/><circle cx="779.24" cy="1001.50" r="11.45" fill="#fff" stroke="#000" stroke-width="3.9"/><circle cx="809.92" cy="1004.60" r="11.45" fill="#fff" stroke="#000" stroke-width="3.9"/><path d="M829.10 991.20h23M829.10 1011.40h23" stroke="#000" stroke-width="3.4" fill="none"/><circle cx="840.60" cy="1001.30" r="11.45" fill="#fff" stroke="#000" stroke-width="3.9"/><path d="M859.78 1009.10h23M859.78 1029.70h23" stroke="#000" stroke-width="3.4" fill="none"/><circle cx="871.28" cy="1019.40" r="11.45" fill="#fff" stroke="#000" stroke-width="3.9"/><path d="M890.46 1001.40h23M890.46 1020.40h23" stroke="#000" stroke-width="3.4" fill="none"/><circle cx="901.96" cy="1010.90" r="11.45" fill="#fff" stroke="#000" stroke-width="3.9"/><rect x="702.1" y="815.4" width="200.1" height="98" rx="6.5" fill="#fff" stroke="#d6d6d6" stroke-width="3.7"/><path d="M732.9 824.1h23M732.9 854.5h23M744.4 824.1V854.5" stroke="#000" stroke-width="3.4" fill="none"/><circle cx="744.4" cy="839.7" r="11.45" fill="#fff" stroke="#000" stroke-width="3.9"/><path d="M732.9 869.5h23M732.9 899.1h23M744.4 869.5V899.1" stroke="#f00" stroke-width="3.4" fill="none"/><rect x="732.9" y="872.8" width="23" height="23" fill="#fff" stroke="#f00" stroke-width="3.9"/><text transform="translate(0.00 851.00) scale(0.9644 1.0000)" x="829.38 834.38 858.51" font-size="34.4" style="font-family:'Liberation Serif',serif" stroke="#000" stroke-width="0.36">4 K</text><text transform="translate(0.00 895.00) scale(0.9833 1.0000)" x="812.57 833.22 853.16 858.16 881.88" font-size="34.4" style="font-family:'Liberation Serif',serif" stroke="#000" stroke-width="0.36">100 K</text></svg></body></html>
